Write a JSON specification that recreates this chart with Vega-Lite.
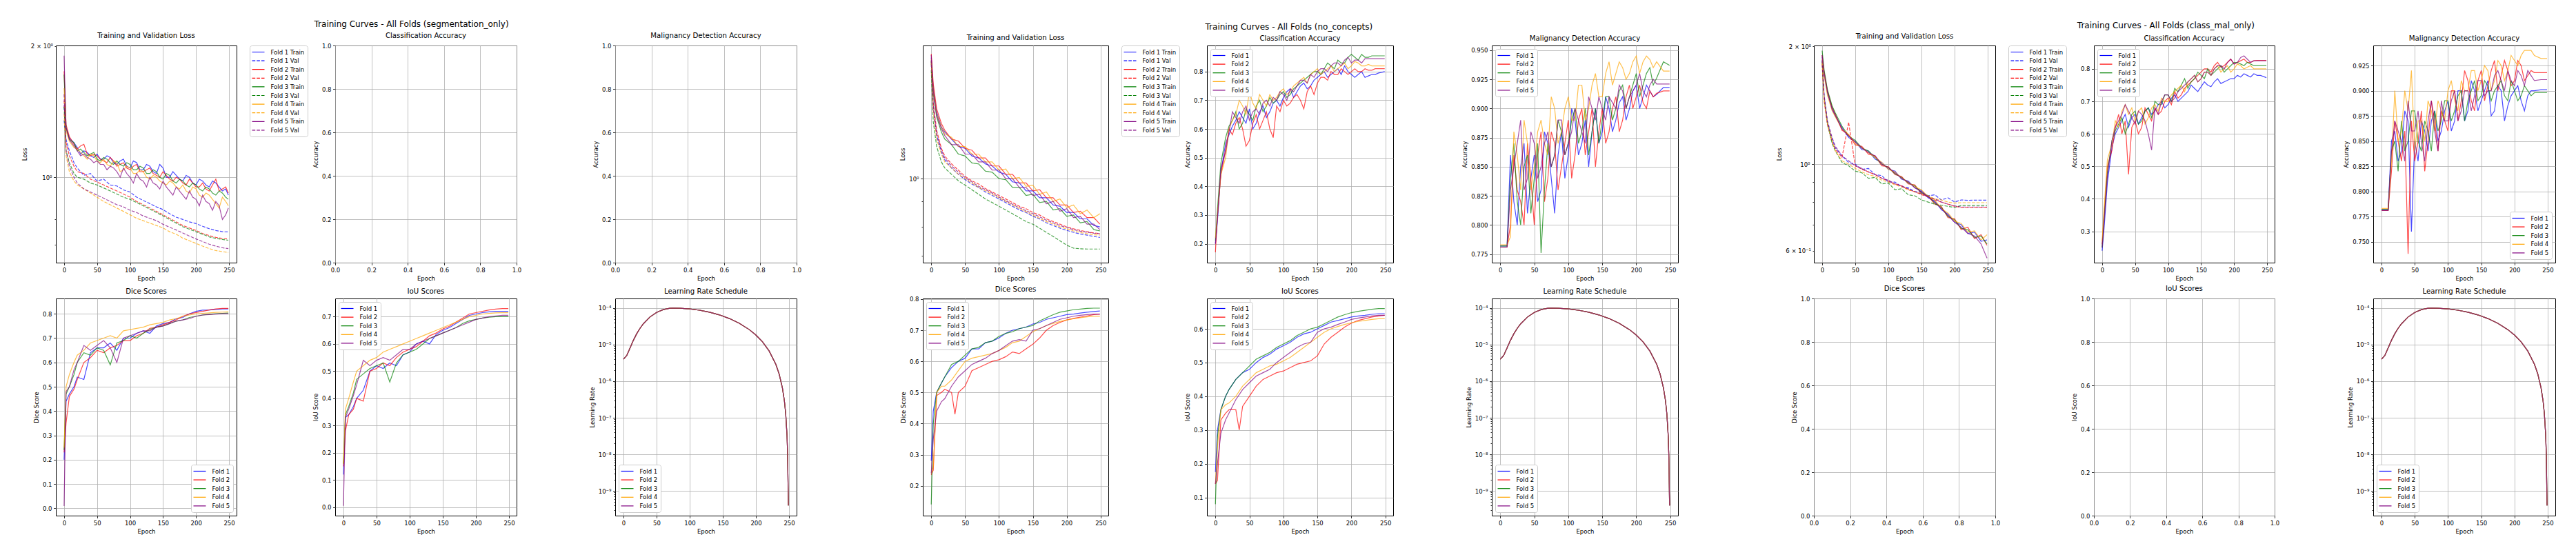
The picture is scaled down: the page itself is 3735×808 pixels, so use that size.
{
"$schema":"https://vega.github.io/schema/vega-lite/v6.json",
"background":"white",
"padding":{"left":30,"top":29,"right":5,"bottom":5},
"spacing":141,
"resolve":{"scale":{"color":"independent","strokeDash":"independent"},"legend":{"color":"independent","strokeDash":"independent"}},
"datasets":{
"lr":[
{"f":1,"e":0,"v":4e-6},{"f":1,"e":5,"v":5.05e-6},{"f":1,"e":10,"v":8.15e-6},{"f":1,"e":15,"v":1.317e-5},{"f":1,"e":20,"v":1.988e-5},{"f":1,"e":25,"v":2.8e-5},{"f":1,"e":30,"v":3.717e-5},{"f":1,"e":40,"v":5.702e-5},{"f":1,"e":50,"v":7.6e-5},{"f":1,"e":60,"v":9.083e-5},{"f":1,"e":70,"v":9.895e-5},{"f":1,"e":75,"v":1e-4},{"f":1,"e":85,"v":9.919e-5},{"f":1,"e":100,"v":9.499e-5},{"f":1,"e":115,"v":8.752e-5},{"f":1,"e":130,"v":7.728e-5},{"f":1,"e":145,"v":6.511e-5},{"f":1,"e":160,"v":5.18e-5},{"f":1,"e":175,"v":3.837e-5},{"f":1,"e":190,"v":2.58e-5},{"f":1,"e":200,"v":1.833e-5},{"f":1,"e":210,"v":1.19e-5},{"f":1,"e":220,"v":6.7e-6},{"f":1,"e":230,"v":2.925e-6},{"f":1,"e":235,"v":1.595e-6},{"f":1,"e":240,"v":6.6e-7},{"f":1,"e":243,"v":2.93e-7},{"f":1,"e":245,"v":1.3e-7},{"f":1,"e":247,"v":3.26e-8},{"f":1,"e":248,"v":8.5e-9},{"f":1,"e":249,"v":4e-10},
{"f":2,"e":0,"v":4e-6},{"f":2,"e":5,"v":5.05e-6},{"f":2,"e":10,"v":8.15e-6},{"f":2,"e":15,"v":1.317e-5},{"f":2,"e":20,"v":1.988e-5},{"f":2,"e":25,"v":2.8e-5},{"f":2,"e":30,"v":3.717e-5},{"f":2,"e":40,"v":5.702e-5},{"f":2,"e":50,"v":7.6e-5},{"f":2,"e":60,"v":9.083e-5},{"f":2,"e":70,"v":9.895e-5},{"f":2,"e":75,"v":1e-4},{"f":2,"e":85,"v":9.919e-5},{"f":2,"e":100,"v":9.499e-5},{"f":2,"e":115,"v":8.752e-5},{"f":2,"e":130,"v":7.728e-5},{"f":2,"e":145,"v":6.511e-5},{"f":2,"e":160,"v":5.18e-5},{"f":2,"e":175,"v":3.837e-5},{"f":2,"e":190,"v":2.58e-5},{"f":2,"e":200,"v":1.833e-5},{"f":2,"e":210,"v":1.19e-5},{"f":2,"e":220,"v":6.7e-6},{"f":2,"e":230,"v":2.925e-6},{"f":2,"e":235,"v":1.595e-6},{"f":2,"e":240,"v":6.6e-7},{"f":2,"e":243,"v":2.93e-7},{"f":2,"e":245,"v":1.3e-7},{"f":2,"e":247,"v":3.26e-8},{"f":2,"e":248,"v":8.5e-9},{"f":2,"e":249,"v":4e-10},
{"f":3,"e":0,"v":4e-6},{"f":3,"e":5,"v":5.05e-6},{"f":3,"e":10,"v":8.15e-6},{"f":3,"e":15,"v":1.317e-5},{"f":3,"e":20,"v":1.988e-5},{"f":3,"e":25,"v":2.8e-5},{"f":3,"e":30,"v":3.717e-5},{"f":3,"e":40,"v":5.702e-5},{"f":3,"e":50,"v":7.6e-5},{"f":3,"e":60,"v":9.083e-5},{"f":3,"e":70,"v":9.895e-5},{"f":3,"e":75,"v":1e-4},{"f":3,"e":85,"v":9.919e-5},{"f":3,"e":100,"v":9.499e-5},{"f":3,"e":115,"v":8.752e-5},{"f":3,"e":130,"v":7.728e-5},{"f":3,"e":145,"v":6.511e-5},{"f":3,"e":160,"v":5.18e-5},{"f":3,"e":175,"v":3.837e-5},{"f":3,"e":190,"v":2.58e-5},{"f":3,"e":200,"v":1.833e-5},{"f":3,"e":210,"v":1.19e-5},{"f":3,"e":220,"v":6.7e-6},{"f":3,"e":230,"v":2.925e-6},{"f":3,"e":235,"v":1.595e-6},{"f":3,"e":240,"v":6.6e-7},{"f":3,"e":243,"v":2.93e-7},{"f":3,"e":245,"v":1.3e-7},{"f":3,"e":247,"v":3.26e-8},{"f":3,"e":248,"v":8.5e-9},{"f":3,"e":249,"v":4e-10},
{"f":4,"e":0,"v":4e-6},{"f":4,"e":5,"v":5.05e-6},{"f":4,"e":10,"v":8.15e-6},{"f":4,"e":15,"v":1.317e-5},{"f":4,"e":20,"v":1.988e-5},{"f":4,"e":25,"v":2.8e-5},{"f":4,"e":30,"v":3.717e-5},{"f":4,"e":40,"v":5.702e-5},{"f":4,"e":50,"v":7.6e-5},{"f":4,"e":60,"v":9.083e-5},{"f":4,"e":70,"v":9.895e-5},{"f":4,"e":75,"v":1e-4},{"f":4,"e":85,"v":9.919e-5},{"f":4,"e":100,"v":9.499e-5},{"f":4,"e":115,"v":8.752e-5},{"f":4,"e":130,"v":7.728e-5},{"f":4,"e":145,"v":6.511e-5},{"f":4,"e":160,"v":5.18e-5},{"f":4,"e":175,"v":3.837e-5},{"f":4,"e":190,"v":2.58e-5},{"f":4,"e":200,"v":1.833e-5},{"f":4,"e":210,"v":1.19e-5},{"f":4,"e":220,"v":6.7e-6},{"f":4,"e":230,"v":2.925e-6},{"f":4,"e":235,"v":1.595e-6},{"f":4,"e":240,"v":6.6e-7},{"f":4,"e":243,"v":2.93e-7},{"f":4,"e":245,"v":1.3e-7},{"f":4,"e":247,"v":3.26e-8},{"f":4,"e":248,"v":8.5e-9},{"f":4,"e":249,"v":4e-10},
{"f":5,"e":0,"v":4e-6},{"f":5,"e":5,"v":5.05e-6},{"f":5,"e":10,"v":8.15e-6},{"f":5,"e":15,"v":1.317e-5},{"f":5,"e":20,"v":1.988e-5},{"f":5,"e":25,"v":2.8e-5},{"f":5,"e":30,"v":3.717e-5},{"f":5,"e":40,"v":5.702e-5},{"f":5,"e":50,"v":7.6e-5},{"f":5,"e":60,"v":9.083e-5},{"f":5,"e":70,"v":9.895e-5},{"f":5,"e":75,"v":1e-4},{"f":5,"e":85,"v":9.919e-5},{"f":5,"e":100,"v":9.499e-5},{"f":5,"e":115,"v":8.752e-5},{"f":5,"e":130,"v":7.728e-5},{"f":5,"e":145,"v":6.511e-5},{"f":5,"e":160,"v":5.18e-5},{"f":5,"e":175,"v":3.837e-5},{"f":5,"e":190,"v":2.58e-5},{"f":5,"e":200,"v":1.833e-5},{"f":5,"e":210,"v":1.19e-5},{"f":5,"e":220,"v":6.7e-6},{"f":5,"e":230,"v":2.925e-6},{"f":5,"e":235,"v":1.595e-6},{"f":5,"e":240,"v":6.6e-7},{"f":5,"e":243,"v":2.93e-7},{"f":5,"e":245,"v":1.3e-7},{"f":5,"e":247,"v":3.26e-8},{"f":5,"e":248,"v":8.5e-9},{"f":5,"e":249,"v":4e-10}
],
"l1":[
{"f":"1T","e":0,"v":1.46},{"f":"1T","e":3,"v":1.3},{"f":"1T","e":8,"v":1.23},{"f":"1T","e":15,"v":1.2},{"f":"1T","e":20,"v":1.17},{"f":"1T","e":30,"v":1.15},{"f":"1T","e":40,"v":1.12},{"f":"1T","e":50,"v":1.13},{"f":"1T","e":60,"v":1.1},{"f":"1T","e":70,"v":1.11},{"f":"1T","e":80,"v":1.07},{"f":"1T","e":90,"v":1.1},{"f":"1T","e":100,"v":1.05},{"f":"1T","e":110,"v":1.08},{"f":"1T","e":120,"v":1.04},{"f":"1T","e":130,"v":1.06},{"f":"1T","e":140,"v":1.02},{"f":"1T","e":150,"v":1.05},{"f":"1T","e":160,"v":1.0},{"f":"1T","e":170,"v":1.01},{"f":"1T","e":180,"v":0.98},{"f":"1T","e":190,"v":1.0},{"f":"1T","e":200,"v":0.96},{"f":"1T","e":210,"v":0.98},{"f":"1T","e":220,"v":0.95},{"f":"1T","e":230,"v":0.97},{"f":"1T","e":240,"v":0.93},{"f":"1T","e":249,"v":0.91},
{"f":"1V","e":0,"v":1.35},{"f":"1V","e":3,"v":1.22},{"f":"1V","e":8,"v":1.15},{"f":"1V","e":15,"v":1.08},{"f":"1V","e":20,"v":1.05},{"f":"1V","e":30,"v":1.01},{"f":"1V","e":40,"v":1.02},{"f":"1V","e":50,"v":0.98},{"f":"1V","e":60,"v":0.99},{"f":"1V","e":70,"v":0.96},{"f":"1V","e":80,"v":0.955},{"f":"1V","e":90,"v":0.935},{"f":"1V","e":100,"v":0.925},{"f":"1V","e":110,"v":0.9},{"f":"1V","e":120,"v":0.885},{"f":"1V","e":130,"v":0.87},{"f":"1V","e":140,"v":0.855},{"f":"1V","e":150,"v":0.843},{"f":"1V","e":160,"v":0.825},{"f":"1V","e":170,"v":0.81},{"f":"1V","e":180,"v":0.8},{"f":"1V","e":190,"v":0.79},{"f":"1V","e":200,"v":0.783},{"f":"1V","e":210,"v":0.772},{"f":"1V","e":220,"v":0.762},{"f":"1V","e":230,"v":0.755},{"f":"1V","e":240,"v":0.75},{"f":"1V","e":249,"v":0.749},
{"f":"2T","e":0,"v":1.75},{"f":"2T","e":3,"v":1.32},{"f":"2T","e":8,"v":1.24},{"f":"2T","e":15,"v":1.19},{"f":"2T","e":20,"v":1.16},{"f":"2T","e":30,"v":1.19},{"f":"2T","e":40,"v":1.12},{"f":"2T","e":50,"v":1.12},{"f":"2T","e":60,"v":1.09},{"f":"2T","e":70,"v":1.11},{"f":"2T","e":80,"v":1.06},{"f":"2T","e":90,"v":1.08},{"f":"2T","e":100,"v":1.04},{"f":"2T","e":110,"v":1.07},{"f":"2T","e":120,"v":1.03},{"f":"2T","e":130,"v":1.05},{"f":"2T","e":140,"v":1.01},{"f":"2T","e":150,"v":1.03},{"f":"2T","e":160,"v":0.99},{"f":"2T","e":170,"v":1.0},{"f":"2T","e":180,"v":0.97},{"f":"2T","e":190,"v":0.99},{"f":"2T","e":200,"v":0.95},{"f":"2T","e":210,"v":0.97},{"f":"2T","e":220,"v":0.93},{"f":"2T","e":230,"v":0.99},{"f":"2T","e":240,"v":0.94},{"f":"2T","e":249,"v":0.92},
{"f":"2V","e":0,"v":1.5},{"f":"2V","e":3,"v":1.2},{"f":"2V","e":8,"v":1.12},{"f":"2V","e":15,"v":1.06},{"f":"2V","e":20,"v":1.03},{"f":"2V","e":30,"v":1.02},{"f":"2V","e":40,"v":0.99},{"f":"2V","e":50,"v":0.975},{"f":"2V","e":60,"v":0.96},{"f":"2V","e":70,"v":0.945},{"f":"2V","e":80,"v":0.93},{"f":"2V","e":90,"v":0.915},{"f":"2V","e":100,"v":0.9},{"f":"2V","e":110,"v":0.88},{"f":"2V","e":120,"v":0.865},{"f":"2V","e":130,"v":0.85},{"f":"2V","e":140,"v":0.835},{"f":"2V","e":150,"v":0.82},{"f":"2V","e":160,"v":0.805},{"f":"2V","e":170,"v":0.79},{"f":"2V","e":180,"v":0.775},{"f":"2V","e":190,"v":0.765},{"f":"2V","e":200,"v":0.755},{"f":"2V","e":210,"v":0.743},{"f":"2V","e":220,"v":0.735},{"f":"2V","e":230,"v":0.728},{"f":"2V","e":240,"v":0.724},{"f":"2V","e":249,"v":0.722},
{"f":"3T","e":0,"v":1.72},{"f":"3T","e":3,"v":1.3},{"f":"3T","e":8,"v":1.22},{"f":"3T","e":15,"v":1.2},{"f":"3T","e":20,"v":1.15},{"f":"3T","e":30,"v":1.14},{"f":"3T","e":40,"v":1.13},{"f":"3T","e":50,"v":1.1},{"f":"3T","e":60,"v":1.11},{"f":"3T","e":70,"v":1.08},{"f":"3T","e":80,"v":1.09},{"f":"3T","e":90,"v":1.06},{"f":"3T","e":100,"v":1.07},{"f":"3T","e":110,"v":1.04},{"f":"3T","e":120,"v":1.05},{"f":"3T","e":130,"v":1.02},{"f":"3T","e":140,"v":1.03},{"f":"3T","e":150,"v":0.99},{"f":"3T","e":160,"v":1.01},{"f":"3T","e":170,"v":0.97},{"f":"3T","e":180,"v":0.98},{"f":"3T","e":190,"v":0.95},{"f":"3T","e":200,"v":0.96},{"f":"3T","e":210,"v":0.93},{"f":"3T","e":220,"v":0.94},{"f":"3T","e":230,"v":0.91},{"f":"3T","e":240,"v":0.92},{"f":"3T","e":249,"v":0.89},
{"f":"3V","e":0,"v":1.45},{"f":"3V","e":3,"v":1.15},{"f":"3V","e":8,"v":1.08},{"f":"3V","e":15,"v":1.02},{"f":"3V","e":20,"v":1.0},{"f":"3V","e":30,"v":0.99},{"f":"3V","e":40,"v":0.97},{"f":"3V","e":50,"v":0.96},{"f":"3V","e":60,"v":0.945},{"f":"3V","e":70,"v":0.93},{"f":"3V","e":80,"v":0.915},{"f":"3V","e":90,"v":0.9},{"f":"3V","e":100,"v":0.89},{"f":"3V","e":110,"v":0.875},{"f":"3V","e":120,"v":0.86},{"f":"3V","e":130,"v":0.845},{"f":"3V","e":140,"v":0.83},{"f":"3V","e":150,"v":0.815},{"f":"3V","e":160,"v":0.8},{"f":"3V","e":170,"v":0.785},{"f":"3V","e":180,"v":0.77},{"f":"3V","e":190,"v":0.76},{"f":"3V","e":200,"v":0.75},{"f":"3V","e":210,"v":0.74},{"f":"3V","e":220,"v":0.73},{"f":"3V","e":230,"v":0.724},{"f":"3V","e":240,"v":0.72},{"f":"3V","e":249,"v":0.717},
{"f":"4T","e":0,"v":1.6},{"f":"4T","e":3,"v":1.28},{"f":"4T","e":8,"v":1.21},{"f":"4T","e":15,"v":1.17},{"f":"4T","e":20,"v":1.16},{"f":"4T","e":30,"v":1.12},{"f":"4T","e":40,"v":1.13},{"f":"4T","e":50,"v":1.09},{"f":"4T","e":60,"v":1.1},{"f":"4T","e":70,"v":1.06},{"f":"4T","e":80,"v":1.08},{"f":"4T","e":90,"v":1.04},{"f":"4T","e":100,"v":1.05},{"f":"4T","e":110,"v":1.02},{"f":"4T","e":120,"v":1.03},{"f":"4T","e":130,"v":0.99},{"f":"4T","e":140,"v":1.0},{"f":"4T","e":150,"v":0.97},{"f":"4T","e":160,"v":0.98},{"f":"4T","e":170,"v":0.95},{"f":"4T","e":180,"v":0.96},{"f":"4T","e":190,"v":0.92},{"f":"4T","e":200,"v":0.94},{"f":"4T","e":210,"v":0.9},{"f":"4T","e":220,"v":0.91},{"f":"4T","e":230,"v":0.87},{"f":"4T","e":240,"v":0.9},{"f":"4T","e":249,"v":0.86},
{"f":"4V","e":0,"v":1.4},{"f":"4V","e":3,"v":1.12},{"f":"4V","e":8,"v":1.03},{"f":"4V","e":15,"v":0.98},{"f":"4V","e":20,"v":0.96},{"f":"4V","e":30,"v":0.94},{"f":"4V","e":40,"v":0.92},{"f":"4V","e":50,"v":0.9},{"f":"4V","e":60,"v":0.88},{"f":"4V","e":70,"v":0.865},{"f":"4V","e":80,"v":0.85},{"f":"4V","e":90,"v":0.835},{"f":"4V","e":100,"v":0.82},{"f":"4V","e":110,"v":0.805},{"f":"4V","e":120,"v":0.795},{"f":"4V","e":130,"v":0.785},{"f":"4V","e":140,"v":0.775},{"f":"4V","e":150,"v":0.765},{"f":"4V","e":160,"v":0.75},{"f":"4V","e":170,"v":0.74},{"f":"4V","e":180,"v":0.725},{"f":"4V","e":190,"v":0.715},{"f":"4V","e":200,"v":0.705},{"f":"4V","e":210,"v":0.695},{"f":"4V","e":220,"v":0.686},{"f":"4V","e":230,"v":0.679},{"f":"4V","e":240,"v":0.675},{"f":"4V","e":249,"v":0.672},
{"f":"5T","e":0,"v":1.9},{"f":"5T","e":3,"v":1.3},{"f":"5T","e":8,"v":1.22},{"f":"5T","e":15,"v":1.18},{"f":"5T","e":20,"v":1.15},{"f":"5T","e":30,"v":1.13},{"f":"5T","e":40,"v":1.1},{"f":"5T","e":50,"v":1.09},{"f":"5T","e":60,"v":1.07},{"f":"5T","e":70,"v":1.06},{"f":"5T","e":80,"v":1.03},{"f":"5T","e":90,"v":1.05},{"f":"5T","e":100,"v":1.0},{"f":"5T","e":110,"v":1.02},{"f":"5T","e":120,"v":0.98},{"f":"5T","e":130,"v":1.0},{"f":"5T","e":140,"v":0.96},{"f":"5T","e":150,"v":0.98},{"f":"5T","e":160,"v":0.93},{"f":"5T","e":170,"v":0.95},{"f":"5T","e":180,"v":0.91},{"f":"5T","e":190,"v":0.93},{"f":"5T","e":200,"v":0.89},{"f":"5T","e":210,"v":0.91},{"f":"5T","e":220,"v":0.87},{"f":"5T","e":230,"v":0.88},{"f":"5T","e":240,"v":0.8},{"f":"5T","e":249,"v":0.85},
{"f":"5V","e":0,"v":1.55},{"f":"5V","e":3,"v":1.15},{"f":"5V","e":8,"v":1.06},{"f":"5V","e":15,"v":1.0},{"f":"5V","e":20,"v":0.97},{"f":"5V","e":30,"v":0.94},{"f":"5V","e":40,"v":0.925},{"f":"5V","e":50,"v":0.91},{"f":"5V","e":60,"v":0.895},{"f":"5V","e":70,"v":0.88},{"f":"5V","e":80,"v":0.865},{"f":"5V","e":90,"v":0.855},{"f":"5V","e":100,"v":0.84},{"f":"5V","e":110,"v":0.83},{"f":"5V","e":120,"v":0.815},{"f":"5V","e":130,"v":0.805},{"f":"5V","e":140,"v":0.795},{"f":"5V","e":150,"v":0.78},{"f":"5V","e":160,"v":0.768},{"f":"5V","e":170,"v":0.757},{"f":"5V","e":180,"v":0.745},{"f":"5V","e":190,"v":0.733},{"f":"5V","e":200,"v":0.722},{"f":"5V","e":210,"v":0.712},{"f":"5V","e":220,"v":0.702},{"f":"5V","e":230,"v":0.695},{"f":"5V","e":240,"v":0.689},{"f":"5V","e":249,"v":0.686},
{"f":"1T","e":25,"v":1.13},{"f":"1T","e":35,"v":1.14},{"f":"1T","e":45,"v":1.11},{"f":"1T","e":55,"v":1.1},{"f":"1T","e":65,"v":1.12},{"f":"1T","e":75,"v":1.08},{"f":"1T","e":85,"v":1.09},{"f":"1T","e":95,"v":1.06},{"f":"1T","e":105,"v":1.09},{"f":"1T","e":115,"v":1.04},{"f":"1T","e":125,"v":1.07},{"f":"1T","e":135,"v":1.03},{"f":"1T","e":145,"v":1.07},{"f":"1T","e":155,"v":1.0},{"f":"1T","e":165,"v":1.03},{"f":"1T","e":175,"v":0.99},{"f":"1T","e":185,"v":1.01},{"f":"1T","e":195,"v":0.97},{"f":"1T","e":205,"v":0.99},{"f":"1T","e":215,"v":0.96},{"f":"1T","e":225,"v":0.98},{"f":"1T","e":235,"v":0.95},{"f":"1T","e":245,"v":0.94},
{"f":"2T","e":25,"v":1.18},{"f":"2T","e":35,"v":1.13},{"f":"2T","e":45,"v":1.13},{"f":"2T","e":55,"v":1.1},{"f":"2T","e":65,"v":1.08},{"f":"2T","e":75,"v":1.09},{"f":"2T","e":85,"v":1.07},{"f":"2T","e":95,"v":1.05},{"f":"2T","e":105,"v":1.06},{"f":"2T","e":115,"v":1.03},{"f":"2T","e":125,"v":1.04},{"f":"2T","e":135,"v":1.02},{"f":"2T","e":145,"v":1.0},{"f":"2T","e":155,"v":1.01},{"f":"2T","e":165,"v":0.98},{"f":"2T","e":175,"v":0.99},{"f":"2T","e":185,"v":0.96},{"f":"2T","e":195,"v":0.97},{"f":"2T","e":205,"v":0.95},{"f":"2T","e":215,"v":0.94},{"f":"2T","e":225,"v":0.96},{"f":"2T","e":235,"v":0.93},{"f":"2T","e":245,"v":0.95},
{"f":"3T","e":25,"v":1.16},{"f":"3T","e":35,"v":1.12},{"f":"3T","e":45,"v":1.14},{"f":"3T","e":55,"v":1.09},{"f":"3T","e":65,"v":1.1},{"f":"3T","e":75,"v":1.07},{"f":"3T","e":85,"v":1.07},{"f":"3T","e":95,"v":1.08},{"f":"3T","e":105,"v":1.04},{"f":"3T","e":115,"v":1.06},{"f":"3T","e":125,"v":1.02},{"f":"3T","e":135,"v":1.04},{"f":"3T","e":145,"v":1.0},{"f":"3T","e":155,"v":1.02},{"f":"3T","e":165,"v":0.98},{"f":"3T","e":175,"v":0.99},{"f":"3T","e":185,"v":0.96},{"f":"3T","e":195,"v":0.97},{"f":"3T","e":205,"v":0.94},{"f":"3T","e":215,"v":0.95},{"f":"3T","e":225,"v":0.92},{"f":"3T","e":235,"v":0.93},{"f":"3T","e":245,"v":0.9},
{"f":"4T","e":25,"v":1.14},{"f":"4T","e":35,"v":1.1},{"f":"4T","e":45,"v":1.12},{"f":"4T","e":55,"v":1.08},{"f":"4T","e":65,"v":1.07},{"f":"4T","e":75,"v":1.09},{"f":"4T","e":85,"v":1.03},{"f":"4T","e":95,"v":1.06},{"f":"4T","e":105,"v":1.02},{"f":"4T","e":115,"v":1.04},{"f":"4T","e":125,"v":1.0},{"f":"4T","e":135,"v":1.01},{"f":"4T","e":145,"v":0.98},{"f":"4T","e":155,"v":0.96},{"f":"4T","e":165,"v":0.97},{"f":"4T","e":175,"v":0.94},{"f":"4T","e":185,"v":0.93},{"f":"4T","e":195,"v":0.95},{"f":"4T","e":205,"v":0.91},{"f":"4T","e":215,"v":0.92},{"f":"4T","e":225,"v":0.89},{"f":"4T","e":235,"v":0.85},{"f":"4T","e":245,"v":0.88},
{"f":"5T","e":25,"v":1.12},{"f":"5T","e":35,"v":1.11},{"f":"5T","e":45,"v":1.08},{"f":"5T","e":55,"v":1.07},{"f":"5T","e":65,"v":1.04},{"f":"5T","e":75,"v":1.05},{"f":"5T","e":85,"v":1.0},{"f":"5T","e":95,"v":1.02},{"f":"5T","e":105,"v":0.97},{"f":"5T","e":115,"v":0.99},{"f":"5T","e":125,"v":0.95},{"f":"5T","e":135,"v":0.97},{"f":"5T","e":145,"v":0.94},{"f":"5T","e":155,"v":0.95},{"f":"5T","e":165,"v":0.91},{"f":"5T","e":175,"v":0.93},{"f":"5T","e":185,"v":0.89},{"f":"5T","e":195,"v":0.9},{"f":"5T","e":205,"v":0.86},{"f":"5T","e":215,"v":0.88},{"f":"5T","e":225,"v":0.84},{"f":"5T","e":235,"v":0.86},{"f":"5T","e":245,"v":0.82}
],
"d1":[
{"f":1,"e":0,"v":0.2},{"f":1,"e":3,"v":0.44},{"f":1,"e":8,"v":0.47},{"f":1,"e":15,"v":0.5},{"f":1,"e":20,"v":0.54},{"f":1,"e":30,"v":0.53},{"f":1,"e":40,"v":0.64},{"f":1,"e":50,"v":0.66},{"f":1,"e":60,"v":0.66},{"f":1,"e":70,"v":0.68},{"f":1,"e":80,"v":0.65},{"f":1,"e":90,"v":0.7},{"f":1,"e":100,"v":0.7},{"f":1,"e":110,"v":0.72},{"f":1,"e":120,"v":0.73},{"f":1,"e":130,"v":0.72},{"f":1,"e":140,"v":0.75},{"f":1,"e":150,"v":0.76},{"f":1,"e":160,"v":0.765},{"f":1,"e":170,"v":0.78},{"f":1,"e":180,"v":0.785},{"f":1,"e":190,"v":0.8},{"f":1,"e":200,"v":0.81},{"f":1,"e":210,"v":0.815},{"f":1,"e":220,"v":0.816},{"f":1,"e":230,"v":0.818},{"f":1,"e":240,"v":0.82},{"f":1,"e":249,"v":0.82},
{"f":2,"e":0,"v":0.23},{"f":2,"e":3,"v":0.35},{"f":2,"e":8,"v":0.46},{"f":2,"e":15,"v":0.49},{"f":2,"e":20,"v":0.53},{"f":2,"e":30,"v":0.6},{"f":2,"e":40,"v":0.62},{"f":2,"e":50,"v":0.65},{"f":2,"e":60,"v":0.64},{"f":2,"e":70,"v":0.66},{"f":2,"e":80,"v":0.67},{"f":2,"e":90,"v":0.69},{"f":2,"e":100,"v":0.69},{"f":2,"e":110,"v":0.71},{"f":2,"e":120,"v":0.72},{"f":2,"e":130,"v":0.74},{"f":2,"e":140,"v":0.745},{"f":2,"e":150,"v":0.755},{"f":2,"e":160,"v":0.765},{"f":2,"e":170,"v":0.775},{"f":2,"e":180,"v":0.79},{"f":2,"e":190,"v":0.8},{"f":2,"e":200,"v":0.805},{"f":2,"e":210,"v":0.81},{"f":2,"e":220,"v":0.816},{"f":2,"e":230,"v":0.82},{"f":2,"e":240,"v":0.822},{"f":2,"e":249,"v":0.822},
{"f":3,"e":0,"v":0.24},{"f":3,"e":3,"v":0.47},{"f":3,"e":8,"v":0.5},{"f":3,"e":15,"v":0.55},{"f":3,"e":20,"v":0.6},{"f":3,"e":30,"v":0.64},{"f":3,"e":40,"v":0.63},{"f":3,"e":50,"v":0.66},{"f":3,"e":60,"v":0.65},{"f":3,"e":70,"v":0.59},{"f":3,"e":80,"v":0.68},{"f":3,"e":90,"v":0.69},{"f":3,"e":100,"v":0.71},{"f":3,"e":110,"v":0.7},{"f":3,"e":120,"v":0.72},{"f":3,"e":130,"v":0.735},{"f":3,"e":140,"v":0.745},{"f":3,"e":150,"v":0.75},{"f":3,"e":160,"v":0.76},{"f":3,"e":170,"v":0.77},{"f":3,"e":180,"v":0.775},{"f":3,"e":190,"v":0.785},{"f":3,"e":200,"v":0.79},{"f":3,"e":210,"v":0.795},{"f":3,"e":220,"v":0.798},{"f":3,"e":230,"v":0.8},{"f":3,"e":240,"v":0.802},{"f":3,"e":249,"v":0.803},
{"f":4,"e":0,"v":0.25},{"f":4,"e":3,"v":0.5},{"f":4,"e":8,"v":0.55},{"f":4,"e":15,"v":0.6},{"f":4,"e":20,"v":0.63},{"f":4,"e":30,"v":0.65},{"f":4,"e":40,"v":0.68},{"f":4,"e":50,"v":0.69},{"f":4,"e":60,"v":0.7},{"f":4,"e":70,"v":0.71},{"f":4,"e":80,"v":0.7},{"f":4,"e":90,"v":0.73},{"f":4,"e":100,"v":0.735},{"f":4,"e":110,"v":0.74},{"f":4,"e":120,"v":0.745},{"f":4,"e":130,"v":0.755},{"f":4,"e":140,"v":0.76},{"f":4,"e":150,"v":0.765},{"f":4,"e":160,"v":0.775},{"f":4,"e":170,"v":0.78},{"f":4,"e":180,"v":0.79},{"f":4,"e":190,"v":0.795},{"f":4,"e":200,"v":0.8},{"f":4,"e":210,"v":0.802},{"f":4,"e":220,"v":0.804},{"f":4,"e":230,"v":0.806},{"f":4,"e":240,"v":0.807},{"f":4,"e":249,"v":0.808},
{"f":5,"e":0,"v":0.01},{"f":5,"e":3,"v":0.48},{"f":5,"e":8,"v":0.5},{"f":5,"e":15,"v":0.57},{"f":5,"e":20,"v":0.6},{"f":5,"e":30,"v":0.67},{"f":5,"e":40,"v":0.65},{"f":5,"e":50,"v":0.67},{"f":5,"e":60,"v":0.69},{"f":5,"e":70,"v":0.66},{"f":5,"e":80,"v":0.6},{"f":5,"e":90,"v":0.7},{"f":5,"e":100,"v":0.71},{"f":5,"e":110,"v":0.72},{"f":5,"e":120,"v":0.73},{"f":5,"e":130,"v":0.73},{"f":5,"e":140,"v":0.745},{"f":5,"e":150,"v":0.75},{"f":5,"e":160,"v":0.76},{"f":5,"e":170,"v":0.77},{"f":5,"e":180,"v":0.775},{"f":5,"e":190,"v":0.78},{"f":5,"e":200,"v":0.79},{"f":5,"e":210,"v":0.795},{"f":5,"e":220,"v":0.797},{"f":5,"e":230,"v":0.799},{"f":5,"e":240,"v":0.8},{"f":5,"e":249,"v":0.8}
],
"i1":[
{"f":1,"e":0,"v":0.12},{"f":1,"e":3,"v":0.33},{"f":1,"e":8,"v":0.34},{"f":1,"e":15,"v":0.37},{"f":1,"e":20,"v":0.4},{"f":1,"e":30,"v":0.43},{"f":1,"e":40,"v":0.5},{"f":1,"e":50,"v":0.52},{"f":1,"e":60,"v":0.51},{"f":1,"e":70,"v":0.53},{"f":1,"e":80,"v":0.52},{"f":1,"e":90,"v":0.56},{"f":1,"e":100,"v":0.57},{"f":1,"e":110,"v":0.6},{"f":1,"e":120,"v":0.61},{"f":1,"e":130,"v":0.6},{"f":1,"e":140,"v":0.635},{"f":1,"e":150,"v":0.65},{"f":1,"e":160,"v":0.66},{"f":1,"e":170,"v":0.675},{"f":1,"e":180,"v":0.69},{"f":1,"e":190,"v":0.705},{"f":1,"e":200,"v":0.71},{"f":1,"e":210,"v":0.715},{"f":1,"e":220,"v":0.718},{"f":1,"e":230,"v":0.72},{"f":1,"e":240,"v":0.72},{"f":1,"e":249,"v":0.72},
{"f":2,"e":0,"v":0.15},{"f":2,"e":3,"v":0.28},{"f":2,"e":8,"v":0.34},{"f":2,"e":15,"v":0.36},{"f":2,"e":20,"v":0.4},{"f":2,"e":30,"v":0.39},{"f":2,"e":40,"v":0.5},{"f":2,"e":50,"v":0.51},{"f":2,"e":60,"v":0.53},{"f":2,"e":70,"v":0.52},{"f":2,"e":80,"v":0.55},{"f":2,"e":90,"v":0.57},{"f":2,"e":100,"v":0.58},{"f":2,"e":110,"v":0.59},{"f":2,"e":120,"v":0.61},{"f":2,"e":130,"v":0.63},{"f":2,"e":140,"v":0.64},{"f":2,"e":150,"v":0.655},{"f":2,"e":160,"v":0.665},{"f":2,"e":170,"v":0.68},{"f":2,"e":180,"v":0.695},{"f":2,"e":190,"v":0.71},{"f":2,"e":200,"v":0.715},{"f":2,"e":210,"v":0.72},{"f":2,"e":220,"v":0.725},{"f":2,"e":230,"v":0.728},{"f":2,"e":240,"v":0.73},{"f":2,"e":249,"v":0.73},
{"f":3,"e":0,"v":0.16},{"f":3,"e":3,"v":0.34},{"f":3,"e":8,"v":0.37},{"f":3,"e":15,"v":0.42},{"f":3,"e":20,"v":0.47},{"f":3,"e":30,"v":0.49},{"f":3,"e":40,"v":0.51},{"f":3,"e":50,"v":0.52},{"f":3,"e":60,"v":0.53},{"f":3,"e":70,"v":0.46},{"f":3,"e":80,"v":0.53},{"f":3,"e":90,"v":0.56},{"f":3,"e":100,"v":0.57},{"f":3,"e":110,"v":0.58},{"f":3,"e":120,"v":0.6},{"f":3,"e":130,"v":0.62},{"f":3,"e":140,"v":0.63},{"f":3,"e":150,"v":0.64},{"f":3,"e":160,"v":0.65},{"f":3,"e":170,"v":0.66},{"f":3,"e":180,"v":0.675},{"f":3,"e":190,"v":0.685},{"f":3,"e":200,"v":0.69},{"f":3,"e":210,"v":0.695},{"f":3,"e":220,"v":0.698},{"f":3,"e":230,"v":0.7},{"f":3,"e":240,"v":0.7},{"f":3,"e":249,"v":0.7},
{"f":4,"e":0,"v":0.16},{"f":4,"e":3,"v":0.36},{"f":4,"e":8,"v":0.4},{"f":4,"e":15,"v":0.46},{"f":4,"e":20,"v":0.5},{"f":4,"e":30,"v":0.52},{"f":4,"e":40,"v":0.54},{"f":4,"e":50,"v":0.55},{"f":4,"e":60,"v":0.57},{"f":4,"e":70,"v":0.58},{"f":4,"e":80,"v":0.59},{"f":4,"e":90,"v":0.6},{"f":4,"e":100,"v":0.61},{"f":4,"e":110,"v":0.62},{"f":4,"e":120,"v":0.63},{"f":4,"e":130,"v":0.64},{"f":4,"e":140,"v":0.65},{"f":4,"e":150,"v":0.66},{"f":4,"e":160,"v":0.67},{"f":4,"e":170,"v":0.68},{"f":4,"e":180,"v":0.69},{"f":4,"e":190,"v":0.7},{"f":4,"e":200,"v":0.705},{"f":4,"e":210,"v":0.71},{"f":4,"e":220,"v":0.712},{"f":4,"e":230,"v":0.714},{"f":4,"e":240,"v":0.715},{"f":4,"e":249,"v":0.715},
{"f":5,"e":0,"v":0.005},{"f":5,"e":3,"v":0.33},{"f":5,"e":8,"v":0.36},{"f":5,"e":15,"v":0.41},{"f":5,"e":20,"v":0.45},{"f":5,"e":30,"v":0.54},{"f":5,"e":40,"v":0.52},{"f":5,"e":50,"v":0.54},{"f":5,"e":60,"v":0.55},{"f":5,"e":70,"v":0.54},{"f":5,"e":80,"v":0.56},{"f":5,"e":90,"v":0.58},{"f":5,"e":100,"v":0.58},{"f":5,"e":110,"v":0.6},{"f":5,"e":120,"v":0.61},{"f":5,"e":130,"v":0.62},{"f":5,"e":140,"v":0.63},{"f":5,"e":150,"v":0.64},{"f":5,"e":160,"v":0.65},{"f":5,"e":170,"v":0.66},{"f":5,"e":180,"v":0.67},{"f":5,"e":190,"v":0.68},{"f":5,"e":200,"v":0.69},{"f":5,"e":210,"v":0.695},{"f":5,"e":220,"v":0.7},{"f":5,"e":230,"v":0.703},{"f":5,"e":240,"v":0.705},{"f":5,"e":249,"v":0.705}
],
"l2":[
{"f":"1T","e":0,"v":1.75},{"f":"1T","e":3,"v":1.52},{"f":"1T","e":8,"v":1.36},{"f":"1T","e":15,"v":1.27},{"f":"1T","e":20,"v":1.24},{"f":"1T","e":30,"v":1.2},{"f":"1T","e":40,"v":1.16},{"f":"1T","e":50,"v":1.15},{"f":"1T","e":60,"v":1.11},{"f":"1T","e":70,"v":1.1},{"f":"1T","e":80,"v":1.07},{"f":"1T","e":90,"v":1.06},{"f":"1T","e":100,"v":1.03},{"f":"1T","e":110,"v":1.02},{"f":"1T","e":120,"v":0.985},{"f":"1T","e":130,"v":0.98},{"f":"1T","e":140,"v":0.945},{"f":"1T","e":150,"v":0.945},{"f":"1T","e":160,"v":0.915},{"f":"1T","e":170,"v":0.915},{"f":"1T","e":180,"v":0.885},{"f":"1T","e":190,"v":0.88},{"f":"1T","e":200,"v":0.855},{"f":"1T","e":210,"v":0.855},{"f":"1T","e":220,"v":0.83},{"f":"1T","e":230,"v":0.83},{"f":"1T","e":240,"v":0.805},{"f":"1T","e":249,"v":0.8},
{"f":"1V","e":0,"v":1.7},{"f":"1V","e":3,"v":1.38},{"f":"1V","e":8,"v":1.22},{"f":"1V","e":15,"v":1.13},{"f":"1V","e":20,"v":1.09},{"f":"1V","e":30,"v":1.05},{"f":"1V","e":40,"v":1.02},{"f":"1V","e":50,"v":0.995},{"f":"1V","e":60,"v":0.975},{"f":"1V","e":70,"v":0.96},{"f":"1V","e":80,"v":0.94},{"f":"1V","e":90,"v":0.925},{"f":"1V","e":100,"v":0.91},{"f":"1V","e":110,"v":0.895},{"f":"1V","e":120,"v":0.88},{"f":"1V","e":130,"v":0.865},{"f":"1V","e":140,"v":0.855},{"f":"1V","e":150,"v":0.84},{"f":"1V","e":160,"v":0.83},{"f":"1V","e":170,"v":0.815},{"f":"1V","e":180,"v":0.805},{"f":"1V","e":190,"v":0.795},{"f":"1V","e":200,"v":0.787},{"f":"1V","e":210,"v":0.78},{"f":"1V","e":220,"v":0.774},{"f":"1V","e":230,"v":0.77},{"f":"1V","e":240,"v":0.765},{"f":"1V","e":249,"v":0.762},
{"f":"2T","e":0,"v":1.78},{"f":"2T","e":3,"v":1.55},{"f":"2T","e":8,"v":1.38},{"f":"2T","e":15,"v":1.29},{"f":"2T","e":20,"v":1.25},{"f":"2T","e":30,"v":1.2},{"f":"2T","e":40,"v":1.19},{"f":"2T","e":50,"v":1.15},{"f":"2T","e":60,"v":1.14},{"f":"2T","e":70,"v":1.1},{"f":"2T","e":80,"v":1.1},{"f":"2T","e":90,"v":1.06},{"f":"2T","e":100,"v":1.06},{"f":"2T","e":110,"v":1.02},{"f":"2T","e":120,"v":1.02},{"f":"2T","e":130,"v":0.98},{"f":"2T","e":140,"v":0.98},{"f":"2T","e":150,"v":0.945},{"f":"2T","e":160,"v":0.95},{"f":"2T","e":170,"v":0.915},{"f":"2T","e":180,"v":0.915},{"f":"2T","e":190,"v":0.885},{"f":"2T","e":200,"v":0.885},{"f":"2T","e":210,"v":0.855},{"f":"2T","e":220,"v":0.86},{"f":"2T","e":230,"v":0.835},{"f":"2T","e":240,"v":0.835},{"f":"2T","e":249,"v":0.81},
{"f":"2V","e":0,"v":1.72},{"f":"2V","e":3,"v":1.42},{"f":"2V","e":8,"v":1.25},{"f":"2V","e":15,"v":1.15},{"f":"2V","e":20,"v":1.11},{"f":"2V","e":30,"v":1.07},{"f":"2V","e":40,"v":1.04},{"f":"2V","e":50,"v":1.01},{"f":"2V","e":60,"v":0.99},{"f":"2V","e":70,"v":0.975},{"f":"2V","e":80,"v":0.955},{"f":"2V","e":90,"v":0.94},{"f":"2V","e":100,"v":0.925},{"f":"2V","e":110,"v":0.91},{"f":"2V","e":120,"v":0.895},{"f":"2V","e":130,"v":0.88},{"f":"2V","e":140,"v":0.87},{"f":"2V","e":150,"v":0.855},{"f":"2V","e":160,"v":0.845},{"f":"2V","e":170,"v":0.83},{"f":"2V","e":180,"v":0.82},{"f":"2V","e":190,"v":0.81},{"f":"2V","e":200,"v":0.8},{"f":"2V","e":210,"v":0.793},{"f":"2V","e":220,"v":0.787},{"f":"2V","e":230,"v":0.782},{"f":"2V","e":240,"v":0.778},{"f":"2V","e":249,"v":0.775},
{"f":"3T","e":0,"v":1.72},{"f":"3T","e":3,"v":1.48},{"f":"3T","e":8,"v":1.33},{"f":"3T","e":15,"v":1.24},{"f":"3T","e":20,"v":1.2},{"f":"3T","e":30,"v":1.17},{"f":"3T","e":40,"v":1.12},{"f":"3T","e":50,"v":1.11},{"f":"3T","e":60,"v":1.075},{"f":"3T","e":70,"v":1.07},{"f":"3T","e":80,"v":1.035},{"f":"3T","e":90,"v":1.03},{"f":"3T","e":100,"v":1.0},{"f":"3T","e":110,"v":0.995},{"f":"3T","e":120,"v":0.96},{"f":"3T","e":130,"v":0.96},{"f":"3T","e":140,"v":0.925},{"f":"3T","e":150,"v":0.93},{"f":"3T","e":160,"v":0.895},{"f":"3T","e":170,"v":0.9},{"f":"3T","e":180,"v":0.865},{"f":"3T","e":190,"v":0.87},{"f":"3T","e":200,"v":0.84},{"f":"3T","e":210,"v":0.845},{"f":"3T","e":220,"v":0.815},{"f":"3T","e":230,"v":0.82},{"f":"3T","e":240,"v":0.79},{"f":"3T","e":249,"v":0.785},
{"f":"3V","e":0,"v":1.65},{"f":"3V","e":3,"v":1.3},{"f":"3V","e":8,"v":1.16},{"f":"3V","e":15,"v":1.08},{"f":"3V","e":20,"v":1.05},{"f":"3V","e":30,"v":1.02},{"f":"3V","e":40,"v":0.99},{"f":"3V","e":50,"v":0.97},{"f":"3V","e":60,"v":0.95},{"f":"3V","e":70,"v":0.93},{"f":"3V","e":80,"v":0.91},{"f":"3V","e":90,"v":0.895},{"f":"3V","e":100,"v":0.88},{"f":"3V","e":110,"v":0.865},{"f":"3V","e":120,"v":0.85},{"f":"3V","e":130,"v":0.835},{"f":"3V","e":140,"v":0.82},{"f":"3V","e":150,"v":0.81},{"f":"3V","e":160,"v":0.795},{"f":"3V","e":170,"v":0.78},{"f":"3V","e":180,"v":0.765},{"f":"3V","e":190,"v":0.75},{"f":"3V","e":200,"v":0.735},{"f":"3V","e":210,"v":0.725},{"f":"3V","e":220,"v":0.723},{"f":"3V","e":230,"v":0.722},{"f":"3V","e":240,"v":0.722},{"f":"3V","e":249,"v":0.722},
{"f":"4T","e":0,"v":1.74},{"f":"4T","e":3,"v":1.5},{"f":"4T","e":8,"v":1.35},{"f":"4T","e":15,"v":1.27},{"f":"4T","e":20,"v":1.23},{"f":"4T","e":30,"v":1.21},{"f":"4T","e":40,"v":1.16},{"f":"4T","e":50,"v":1.16},{"f":"4T","e":60,"v":1.12},{"f":"4T","e":70,"v":1.12},{"f":"4T","e":80,"v":1.08},{"f":"4T","e":90,"v":1.08},{"f":"4T","e":100,"v":1.04},{"f":"4T","e":110,"v":1.045},{"f":"4T","e":120,"v":1.0},{"f":"4T","e":130,"v":1.005},{"f":"4T","e":140,"v":0.965},{"f":"4T","e":150,"v":0.97},{"f":"4T","e":160,"v":0.93},{"f":"4T","e":170,"v":0.94},{"f":"4T","e":180,"v":0.9},{"f":"4T","e":190,"v":0.91},{"f":"4T","e":200,"v":0.875},{"f":"4T","e":210,"v":0.885},{"f":"4T","e":220,"v":0.85},{"f":"4T","e":230,"v":0.865},{"f":"4T","e":240,"v":0.835},{"f":"4T","e":249,"v":0.85},
{"f":"4V","e":0,"v":1.7},{"f":"4V","e":3,"v":1.36},{"f":"4V","e":8,"v":1.2},{"f":"4V","e":15,"v":1.12},{"f":"4V","e":20,"v":1.08},{"f":"4V","e":30,"v":1.05},{"f":"4V","e":40,"v":1.02},{"f":"4V","e":50,"v":1.0},{"f":"4V","e":60,"v":0.98},{"f":"4V","e":70,"v":0.96},{"f":"4V","e":80,"v":0.945},{"f":"4V","e":90,"v":0.93},{"f":"4V","e":100,"v":0.915},{"f":"4V","e":110,"v":0.9},{"f":"4V","e":120,"v":0.885},{"f":"4V","e":130,"v":0.87},{"f":"4V","e":140,"v":0.858},{"f":"4V","e":150,"v":0.845},{"f":"4V","e":160,"v":0.832},{"f":"4V","e":170,"v":0.82},{"f":"4V","e":180,"v":0.81},{"f":"4V","e":190,"v":0.8},{"f":"4V","e":200,"v":0.792},{"f":"4V","e":210,"v":0.785},{"f":"4V","e":220,"v":0.779},{"f":"4V","e":230,"v":0.775},{"f":"4V","e":240,"v":0.771},{"f":"4V","e":249,"v":0.77},
{"f":"5T","e":0,"v":1.77},{"f":"5T","e":3,"v":1.5},{"f":"5T","e":8,"v":1.34},{"f":"5T","e":15,"v":1.26},{"f":"5T","e":20,"v":1.22},{"f":"5T","e":30,"v":1.17},{"f":"5T","e":40,"v":1.17},{"f":"5T","e":50,"v":1.12},{"f":"5T","e":60,"v":1.12},{"f":"5T","e":70,"v":1.08},{"f":"5T","e":80,"v":1.08},{"f":"5T","e":90,"v":1.04},{"f":"5T","e":100,"v":1.04},{"f":"5T","e":110,"v":1.0},{"f":"5T","e":120,"v":1.0},{"f":"5T","e":130,"v":0.96},{"f":"5T","e":140,"v":0.96},{"f":"5T","e":150,"v":0.925},{"f":"5T","e":160,"v":0.93},{"f":"5T","e":170,"v":0.89},{"f":"5T","e":180,"v":0.9},{"f":"5T","e":190,"v":0.86},{"f":"5T","e":200,"v":0.87},{"f":"5T","e":210,"v":0.835},{"f":"5T","e":220,"v":0.84},{"f":"5T","e":230,"v":0.81},{"f":"5T","e":240,"v":0.81},{"f":"5T","e":249,"v":0.79},
{"f":"5V","e":0,"v":1.73},{"f":"5V","e":3,"v":1.4},{"f":"5V","e":8,"v":1.23},{"f":"5V","e":15,"v":1.14},{"f":"5V","e":20,"v":1.1},{"f":"5V","e":30,"v":1.06},{"f":"5V","e":40,"v":1.03},{"f":"5V","e":50,"v":1.005},{"f":"5V","e":60,"v":0.985},{"f":"5V","e":70,"v":0.965},{"f":"5V","e":80,"v":0.95},{"f":"5V","e":90,"v":0.935},{"f":"5V","e":100,"v":0.918},{"f":"5V","e":110,"v":0.903},{"f":"5V","e":120,"v":0.888},{"f":"5V","e":130,"v":0.874},{"f":"5V","e":140,"v":0.862},{"f":"5V","e":150,"v":0.85},{"f":"5V","e":160,"v":0.838},{"f":"5V","e":170,"v":0.825},{"f":"5V","e":180,"v":0.815},{"f":"5V","e":190,"v":0.805},{"f":"5V","e":200,"v":0.797},{"f":"5V","e":210,"v":0.79},{"f":"5V","e":220,"v":0.784},{"f":"5V","e":230,"v":0.78},{"f":"5V","e":240,"v":0.777},{"f":"5V","e":249,"v":0.775}
],
"c2":[
{"f":1,"e":0,"v":0.2},{"f":1,"e":3,"v":0.28},{"f":1,"e":8,"v":0.45},{"f":1,"e":15,"v":0.55},{"f":1,"e":20,"v":0.58},{"f":1,"e":30,"v":0.63},{"f":1,"e":40,"v":0.64},{"f":1,"e":50,"v":0.67},{"f":1,"e":60,"v":0.62},{"f":1,"e":70,"v":0.68},{"f":1,"e":80,"v":0.66},{"f":1,"e":90,"v":0.7},{"f":1,"e":100,"v":0.71},{"f":1,"e":110,"v":0.74},{"f":1,"e":120,"v":0.73},{"f":1,"e":130,"v":0.76},{"f":1,"e":140,"v":0.75},{"f":1,"e":150,"v":0.78},{"f":1,"e":160,"v":0.8},{"f":1,"e":170,"v":0.79},{"f":1,"e":180,"v":0.81},{"f":1,"e":190,"v":0.82},{"f":1,"e":200,"v":0.79},{"f":1,"e":210,"v":0.79},{"f":1,"e":220,"v":0.78},{"f":1,"e":230,"v":0.79},{"f":1,"e":240,"v":0.795},{"f":1,"e":249,"v":0.8},
{"f":2,"e":0,"v":0.17},{"f":2,"e":3,"v":0.3},{"f":2,"e":8,"v":0.44},{"f":2,"e":15,"v":0.53},{"f":2,"e":20,"v":0.6},{"f":2,"e":30,"v":0.62},{"f":2,"e":40,"v":0.6},{"f":2,"e":50,"v":0.56},{"f":2,"e":60,"v":0.65},{"f":2,"e":70,"v":0.63},{"f":2,"e":80,"v":0.6},{"f":2,"e":90,"v":0.68},{"f":2,"e":100,"v":0.7},{"f":2,"e":110,"v":0.69},{"f":2,"e":120,"v":0.72},{"f":2,"e":130,"v":0.67},{"f":2,"e":140,"v":0.75},{"f":2,"e":150,"v":0.76},{"f":2,"e":160,"v":0.78},{"f":2,"e":170,"v":0.8},{"f":2,"e":180,"v":0.79},{"f":2,"e":190,"v":0.8},{"f":2,"e":200,"v":0.8},{"f":2,"e":210,"v":0.8},{"f":2,"e":220,"v":0.81},{"f":2,"e":230,"v":0.805},{"f":2,"e":240,"v":0.81},{"f":2,"e":249,"v":0.81},
{"f":3,"e":0,"v":0.21},{"f":3,"e":3,"v":0.32},{"f":3,"e":8,"v":0.48},{"f":3,"e":15,"v":0.57},{"f":3,"e":20,"v":0.61},{"f":3,"e":30,"v":0.66},{"f":3,"e":40,"v":0.62},{"f":3,"e":50,"v":0.65},{"f":3,"e":60,"v":0.68},{"f":3,"e":70,"v":0.66},{"f":3,"e":80,"v":0.71},{"f":3,"e":90,"v":0.7},{"f":3,"e":100,"v":0.73},{"f":3,"e":110,"v":0.72},{"f":3,"e":120,"v":0.75},{"f":3,"e":130,"v":0.77},{"f":3,"e":140,"v":0.79},{"f":3,"e":150,"v":0.8},{"f":3,"e":160,"v":0.81},{"f":3,"e":170,"v":0.82},{"f":3,"e":180,"v":0.84},{"f":3,"e":190,"v":0.83},{"f":3,"e":200,"v":0.86},{"f":3,"e":210,"v":0.84},{"f":3,"e":220,"v":0.85},{"f":3,"e":230,"v":0.855},{"f":3,"e":240,"v":0.855},{"f":3,"e":249,"v":0.855},
{"f":4,"e":0,"v":0.22},{"f":4,"e":3,"v":0.3},{"f":4,"e":8,"v":0.44},{"f":4,"e":15,"v":0.5},{"f":4,"e":20,"v":0.6},{"f":4,"e":30,"v":0.65},{"f":4,"e":40,"v":0.68},{"f":4,"e":50,"v":0.73},{"f":4,"e":60,"v":0.67},{"f":4,"e":70,"v":0.7},{"f":4,"e":80,"v":0.72},{"f":4,"e":90,"v":0.71},{"f":4,"e":100,"v":0.74},{"f":4,"e":110,"v":0.73},{"f":4,"e":120,"v":0.76},{"f":4,"e":130,"v":0.78},{"f":4,"e":140,"v":0.79},{"f":4,"e":150,"v":0.81},{"f":4,"e":160,"v":0.8},{"f":4,"e":170,"v":0.82},{"f":4,"e":180,"v":0.81},{"f":4,"e":190,"v":0.83},{"f":4,"e":200,"v":0.82},{"f":4,"e":210,"v":0.83},{"f":4,"e":220,"v":0.82},{"f":4,"e":230,"v":0.82},{"f":4,"e":240,"v":0.82},{"f":4,"e":249,"v":0.82},
{"f":5,"e":0,"v":0.2},{"f":5,"e":3,"v":0.29},{"f":5,"e":8,"v":0.46},{"f":5,"e":15,"v":0.52},{"f":5,"e":20,"v":0.59},{"f":5,"e":30,"v":0.64},{"f":5,"e":40,"v":0.66},{"f":5,"e":50,"v":0.63},{"f":5,"e":60,"v":0.67},{"f":5,"e":70,"v":0.69},{"f":5,"e":80,"v":0.68},{"f":5,"e":90,"v":0.7},{"f":5,"e":100,"v":0.72},{"f":5,"e":110,"v":0.74},{"f":5,"e":120,"v":0.75},{"f":5,"e":130,"v":0.77},{"f":5,"e":140,"v":0.79},{"f":5,"e":150,"v":0.8},{"f":5,"e":160,"v":0.81},{"f":5,"e":170,"v":0.82},{"f":5,"e":180,"v":0.83},{"f":5,"e":190,"v":0.84},{"f":5,"e":200,"v":0.83},{"f":5,"e":210,"v":0.84},{"f":5,"e":220,"v":0.845},{"f":5,"e":230,"v":0.845},{"f":5,"e":240,"v":0.845},{"f":5,"e":249,"v":0.845},
{"f":1,"e":25,"v":0.61},{"f":1,"e":35,"v":0.66},{"f":1,"e":45,"v":0.62},{"f":1,"e":55,"v":0.6},{"f":1,"e":65,"v":0.66},{"f":1,"e":75,"v":0.64},{"f":1,"e":85,"v":0.69},{"f":1,"e":95,"v":0.68},{"f":1,"e":105,"v":0.73},{"f":1,"e":115,"v":0.71},{"f":1,"e":125,"v":0.75},{"f":1,"e":135,"v":0.74},{"f":1,"e":145,"v":0.77},{"f":1,"e":155,"v":0.79},{"f":1,"e":165,"v":0.78},{"f":1,"e":175,"v":0.8},{"f":1,"e":185,"v":0.79},{"f":1,"e":195,"v":0.8},{"f":1,"e":205,"v":0.78},{"f":1,"e":215,"v":0.8},{"f":1,"e":225,"v":0.785},{"f":1,"e":235,"v":0.79},
{"f":2,"e":25,"v":0.58},{"f":2,"e":35,"v":0.64},{"f":2,"e":45,"v":0.54},{"f":2,"e":55,"v":0.62},{"f":2,"e":65,"v":0.6},{"f":2,"e":75,"v":0.66},{"f":2,"e":85,"v":0.57},{"f":2,"e":95,"v":0.66},{"f":2,"e":105,"v":0.68},{"f":2,"e":115,"v":0.71},{"f":2,"e":125,"v":0.7},{"f":2,"e":135,"v":0.73},{"f":2,"e":145,"v":0.72},{"f":2,"e":155,"v":0.78},{"f":2,"e":165,"v":0.77},{"f":2,"e":175,"v":0.79},{"f":2,"e":185,"v":0.81},{"f":2,"e":195,"v":0.79},{"f":2,"e":205,"v":0.81},{"f":2,"e":215,"v":0.8},{"f":2,"e":225,"v":0.805},{"f":2,"e":235,"v":0.81},
{"f":3,"e":25,"v":0.63},{"f":3,"e":35,"v":0.6},{"f":3,"e":45,"v":0.67},{"f":3,"e":55,"v":0.63},{"f":3,"e":65,"v":0.7},{"f":3,"e":75,"v":0.68},{"f":3,"e":85,"v":0.69},{"f":3,"e":95,"v":0.72},{"f":3,"e":105,"v":0.71},{"f":3,"e":115,"v":0.74},{"f":3,"e":125,"v":0.76},{"f":3,"e":135,"v":0.78},{"f":3,"e":145,"v":0.8},{"f":3,"e":155,"v":0.79},{"f":3,"e":165,"v":0.83},{"f":3,"e":175,"v":0.81},{"f":3,"e":185,"v":0.83},{"f":3,"e":195,"v":0.85},{"f":3,"e":205,"v":0.85},{"f":3,"e":215,"v":0.86},{"f":3,"e":225,"v":0.85},{"f":3,"e":235,"v":0.855},
{"f":4,"e":25,"v":0.63},{"f":4,"e":35,"v":0.7},{"f":4,"e":45,"v":0.65},{"f":4,"e":55,"v":0.69},{"f":4,"e":65,"v":0.72},{"f":4,"e":75,"v":0.68},{"f":4,"e":85,"v":0.7},{"f":4,"e":95,"v":0.73},{"f":4,"e":105,"v":0.72},{"f":4,"e":115,"v":0.75},{"f":4,"e":125,"v":0.77},{"f":4,"e":135,"v":0.76},{"f":4,"e":145,"v":0.8},{"f":4,"e":155,"v":0.79},{"f":4,"e":165,"v":0.81},{"f":4,"e":175,"v":0.8},{"f":4,"e":185,"v":0.82},{"f":4,"e":195,"v":0.81},{"f":4,"e":205,"v":0.835},{"f":4,"e":215,"v":0.82},{"f":4,"e":225,"v":0.825},{"f":4,"e":235,"v":0.82},
{"f":5,"e":25,"v":0.66},{"f":5,"e":35,"v":0.62},{"f":5,"e":45,"v":0.68},{"f":5,"e":55,"v":0.66},{"f":5,"e":65,"v":0.65},{"f":5,"e":75,"v":0.7},{"f":5,"e":85,"v":0.71},{"f":5,"e":95,"v":0.73},{"f":5,"e":105,"v":0.7},{"f":5,"e":115,"v":0.73},{"f":5,"e":125,"v":0.77},{"f":5,"e":135,"v":0.76},{"f":5,"e":145,"v":0.78},{"f":5,"e":155,"v":0.81},{"f":5,"e":165,"v":0.8},{"f":5,"e":175,"v":0.83},{"f":5,"e":185,"v":0.82},{"f":5,"e":195,"v":0.85},{"f":5,"e":205,"v":0.84},{"f":5,"e":215,"v":0.83},{"f":5,"e":225,"v":0.845},{"f":5,"e":235,"v":0.845}
],
"m2":[
{"f":1,"e":0,"v":0.782},{"f":1,"e":10,"v":0.782},{"f":1,"e":15,"v":0.86},{"f":1,"e":20,"v":0.82},{"f":1,"e":30,"v":0.85},{"f":1,"e":40,"v":0.81},{"f":1,"e":50,"v":0.86},{"f":1,"e":60,"v":0.83},{"f":1,"e":70,"v":0.87},{"f":1,"e":80,"v":0.81},{"f":1,"e":90,"v":0.88},{"f":1,"e":100,"v":0.86},{"f":1,"e":110,"v":0.89},{"f":1,"e":120,"v":0.87},{"f":1,"e":130,"v":0.85},{"f":1,"e":140,"v":0.9},{"f":1,"e":150,"v":0.88},{"f":1,"e":160,"v":0.9},{"f":1,"e":170,"v":0.89},{"f":1,"e":180,"v":0.91},{"f":1,"e":190,"v":0.9},{"f":1,"e":200,"v":0.92},{"f":1,"e":210,"v":0.91},{"f":1,"e":220,"v":0.915},{"f":1,"e":230,"v":0.912},{"f":1,"e":240,"v":0.918},{"f":1,"e":249,"v":0.918},
{"f":2,"e":0,"v":0.781},{"f":2,"e":10,"v":0.781},{"f":2,"e":15,"v":0.8},{"f":2,"e":20,"v":0.86},{"f":2,"e":30,"v":0.82},{"f":2,"e":40,"v":0.87},{"f":2,"e":50,"v":0.8},{"f":2,"e":60,"v":0.88},{"f":2,"e":70,"v":0.84},{"f":2,"e":80,"v":0.87},{"f":2,"e":90,"v":0.85},{"f":2,"e":100,"v":0.89},{"f":2,"e":110,"v":0.86},{"f":2,"e":120,"v":0.9},{"f":2,"e":130,"v":0.88},{"f":2,"e":140,"v":0.85},{"f":2,"e":150,"v":0.9},{"f":2,"e":160,"v":0.88},{"f":2,"e":170,"v":0.91},{"f":2,"e":180,"v":0.89},{"f":2,"e":190,"v":0.92},{"f":2,"e":200,"v":0.91},{"f":2,"e":210,"v":0.905},{"f":2,"e":220,"v":0.915},{"f":2,"e":230,"v":0.913},{"f":2,"e":240,"v":0.915},{"f":2,"e":249,"v":0.915},
{"f":3,"e":0,"v":0.782},{"f":3,"e":10,"v":0.782},{"f":3,"e":15,"v":0.84},{"f":3,"e":20,"v":0.87},{"f":3,"e":30,"v":0.8},{"f":3,"e":40,"v":0.86},{"f":3,"e":50,"v":0.84},{"f":3,"e":60,"v":0.776},{"f":3,"e":70,"v":0.87},{"f":3,"e":80,"v":0.86},{"f":3,"e":90,"v":0.88},{"f":3,"e":100,"v":0.87},{"f":3,"e":110,"v":0.9},{"f":3,"e":120,"v":0.88},{"f":3,"e":130,"v":0.86},{"f":3,"e":140,"v":0.9},{"f":3,"e":150,"v":0.89},{"f":3,"e":160,"v":0.91},{"f":3,"e":170,"v":0.9},{"f":3,"e":180,"v":0.92},{"f":3,"e":190,"v":0.91},{"f":3,"e":200,"v":0.93},{"f":3,"e":210,"v":0.92},{"f":3,"e":220,"v":0.935},{"f":3,"e":230,"v":0.926},{"f":3,"e":240,"v":0.94},{"f":3,"e":249,"v":0.937},
{"f":4,"e":0,"v":0.783},{"f":4,"e":10,"v":0.783},{"f":4,"e":15,"v":0.79},{"f":4,"e":20,"v":0.88},{"f":4,"e":30,"v":0.83},{"f":4,"e":40,"v":0.87},{"f":4,"e":50,"v":0.85},{"f":4,"e":60,"v":0.89},{"f":4,"e":70,"v":0.86},{"f":4,"e":80,"v":0.9},{"f":4,"e":90,"v":0.88},{"f":4,"e":100,"v":0.91},{"f":4,"e":110,"v":0.89},{"f":4,"e":120,"v":0.92},{"f":4,"e":130,"v":0.9},{"f":4,"e":140,"v":0.93},{"f":4,"e":150,"v":0.91},{"f":4,"e":160,"v":0.94},{"f":4,"e":170,"v":0.93},{"f":4,"e":180,"v":0.935},{"f":4,"e":190,"v":0.93},{"f":4,"e":200,"v":0.945},{"f":4,"e":210,"v":0.94},{"f":4,"e":220,"v":0.942},{"f":4,"e":230,"v":0.94},{"f":4,"e":240,"v":0.932},{"f":4,"e":249,"v":0.932},
{"f":5,"e":0,"v":0.781},{"f":5,"e":10,"v":0.781},{"f":5,"e":15,"v":0.83},{"f":5,"e":20,"v":0.85},{"f":5,"e":30,"v":0.89},{"f":5,"e":40,"v":0.84},{"f":5,"e":50,"v":0.87},{"f":5,"e":60,"v":0.85},{"f":5,"e":70,"v":0.88},{"f":5,"e":80,"v":0.86},{"f":5,"e":90,"v":0.89},{"f":5,"e":100,"v":0.87},{"f":5,"e":110,"v":0.9},{"f":5,"e":120,"v":0.88},{"f":5,"e":130,"v":0.91},{"f":5,"e":140,"v":0.89},{"f":5,"e":150,"v":0.9},{"f":5,"e":160,"v":0.91},{"f":5,"e":170,"v":0.9},{"f":5,"e":180,"v":0.915},{"f":5,"e":190,"v":0.91},{"f":5,"e":200,"v":0.92},{"f":5,"e":210,"v":0.915},{"f":5,"e":220,"v":0.92},{"f":5,"e":230,"v":0.921},{"f":5,"e":240,"v":0.921},{"f":5,"e":249,"v":0.921},
{"f":1,"e":25,"v":0.8},{"f":1,"e":35,"v":0.87},{"f":1,"e":45,"v":0.84},{"f":1,"e":55,"v":0.82},{"f":1,"e":65,"v":0.88},{"f":1,"e":75,"v":0.84},{"f":1,"e":85,"v":0.86},{"f":1,"e":95,"v":0.84},{"f":1,"e":105,"v":0.9},{"f":1,"e":115,"v":0.86},{"f":1,"e":125,"v":0.89},{"f":1,"e":135,"v":0.88},{"f":1,"e":145,"v":0.87},{"f":1,"e":155,"v":0.91},{"f":1,"e":165,"v":0.88},{"f":1,"e":175,"v":0.905},{"f":1,"e":185,"v":0.89},{"f":1,"e":195,"v":0.915},{"f":1,"e":205,"v":0.9},{"f":1,"e":215,"v":0.92},{"f":1,"e":225,"v":0.91},
{"f":2,"e":25,"v":0.83},{"f":2,"e":35,"v":0.8},{"f":2,"e":45,"v":0.84},{"f":2,"e":55,"v":0.86},{"f":2,"e":65,"v":0.82},{"f":2,"e":75,"v":0.88},{"f":2,"e":85,"v":0.83},{"f":2,"e":95,"v":0.87},{"f":2,"e":105,"v":0.84},{"f":2,"e":115,"v":0.89},{"f":2,"e":125,"v":0.86},{"f":2,"e":135,"v":0.9},{"f":2,"e":145,"v":0.88},{"f":2,"e":155,"v":0.87},{"f":2,"e":165,"v":0.9},{"f":2,"e":175,"v":0.88},{"f":2,"e":185,"v":0.91},{"f":2,"e":195,"v":0.9},{"f":2,"e":205,"v":0.92},{"f":2,"e":215,"v":0.9},{"f":2,"e":225,"v":0.91},
{"f":3,"e":25,"v":0.82},{"f":3,"e":35,"v":0.85},{"f":3,"e":45,"v":0.81},{"f":3,"e":55,"v":0.87},{"f":3,"e":65,"v":0.83},{"f":3,"e":75,"v":0.85},{"f":3,"e":85,"v":0.89},{"f":3,"e":95,"v":0.86},{"f":3,"e":105,"v":0.89},{"f":3,"e":115,"v":0.87},{"f":3,"e":125,"v":0.9},{"f":3,"e":135,"v":0.88},{"f":3,"e":145,"v":0.87},{"f":3,"e":155,"v":0.91},{"f":3,"e":165,"v":0.89},{"f":3,"e":175,"v":0.915},{"f":3,"e":185,"v":0.9},{"f":3,"e":195,"v":0.92},{"f":3,"e":205,"v":0.91},{"f":3,"e":215,"v":0.93},{"f":3,"e":225,"v":0.92},
{"f":4,"e":25,"v":0.86},{"f":4,"e":35,"v":0.89},{"f":4,"e":45,"v":0.83},{"f":4,"e":55,"v":0.88},{"f":4,"e":65,"v":0.87},{"f":4,"e":75,"v":0.91},{"f":4,"e":85,"v":0.87},{"f":4,"e":95,"v":0.9},{"f":4,"e":105,"v":0.89},{"f":4,"e":115,"v":0.92},{"f":4,"e":125,"v":0.89},{"f":4,"e":135,"v":0.92},{"f":4,"e":145,"v":0.91},{"f":4,"e":155,"v":0.93},{"f":4,"e":165,"v":0.92},{"f":4,"e":175,"v":0.94},{"f":4,"e":185,"v":0.925},{"f":4,"e":195,"v":0.94},{"f":4,"e":205,"v":0.93},{"f":4,"e":215,"v":0.945},{"f":4,"e":225,"v":0.935},
{"f":5,"e":25,"v":0.87},{"f":5,"e":35,"v":0.83},{"f":5,"e":45,"v":0.88},{"f":5,"e":55,"v":0.84},{"f":5,"e":65,"v":0.87},{"f":5,"e":75,"v":0.85},{"f":5,"e":85,"v":0.89},{"f":5,"e":95,"v":0.86},{"f":5,"e":105,"v":0.88},{"f":5,"e":115,"v":0.89},{"f":5,"e":125,"v":0.87},{"f":5,"e":135,"v":0.9},{"f":5,"e":145,"v":0.91},{"f":5,"e":155,"v":0.89},{"f":5,"e":165,"v":0.905},{"f":5,"e":175,"v":0.92},{"f":5,"e":185,"v":0.9},{"f":5,"e":195,"v":0.915},{"f":5,"e":205,"v":0.93},{"f":5,"e":215,"v":0.91},{"f":5,"e":225,"v":0.925}
],
"d2":[
{"f":1,"e":0,"v":0.28},{"f":1,"e":3,"v":0.44},{"f":1,"e":8,"v":0.5},{"f":1,"e":15,"v":0.53},{"f":1,"e":20,"v":0.55},{"f":1,"e":30,"v":0.58},{"f":1,"e":40,"v":0.6},{"f":1,"e":50,"v":0.61},{"f":1,"e":60,"v":0.64},{"f":1,"e":70,"v":0.64},{"f":1,"e":80,"v":0.66},{"f":1,"e":90,"v":0.665},{"f":1,"e":100,"v":0.675},{"f":1,"e":110,"v":0.69},{"f":1,"e":120,"v":0.7},{"f":1,"e":130,"v":0.705},{"f":1,"e":140,"v":0.71},{"f":1,"e":150,"v":0.72},{"f":1,"e":160,"v":0.725},{"f":1,"e":170,"v":0.735},{"f":1,"e":180,"v":0.74},{"f":1,"e":190,"v":0.745},{"f":1,"e":200,"v":0.75},{"f":1,"e":210,"v":0.752},{"f":1,"e":220,"v":0.755},{"f":1,"e":230,"v":0.758},{"f":1,"e":240,"v":0.76},{"f":1,"e":249,"v":0.762},
{"f":2,"e":0,"v":0.235},{"f":2,"e":3,"v":0.25},{"f":2,"e":8,"v":0.49},{"f":2,"e":15,"v":0.5},{"f":2,"e":20,"v":0.51},{"f":2,"e":30,"v":0.5},{"f":2,"e":35,"v":0.43},{"f":2,"e":40,"v":0.5},{"f":2,"e":50,"v":0.52},{"f":2,"e":60,"v":0.57},{"f":2,"e":70,"v":0.58},{"f":2,"e":80,"v":0.59},{"f":2,"e":90,"v":0.6},{"f":2,"e":100,"v":0.605},{"f":2,"e":110,"v":0.615},{"f":2,"e":120,"v":0.63},{"f":2,"e":130,"v":0.625},{"f":2,"e":140,"v":0.64},{"f":2,"e":150,"v":0.655},{"f":2,"e":160,"v":0.675},{"f":2,"e":170,"v":0.7},{"f":2,"e":180,"v":0.715},{"f":2,"e":190,"v":0.725},{"f":2,"e":200,"v":0.733},{"f":2,"e":210,"v":0.738},{"f":2,"e":220,"v":0.742},{"f":2,"e":230,"v":0.746},{"f":2,"e":240,"v":0.75},{"f":2,"e":249,"v":0.752},
{"f":3,"e":0,"v":0.14},{"f":3,"e":3,"v":0.4},{"f":3,"e":8,"v":0.5},{"f":3,"e":15,"v":0.53},{"f":3,"e":20,"v":0.55},{"f":3,"e":30,"v":0.59},{"f":3,"e":40,"v":0.6},{"f":3,"e":50,"v":0.62},{"f":3,"e":60,"v":0.64},{"f":3,"e":70,"v":0.645},{"f":3,"e":80,"v":0.66},{"f":3,"e":90,"v":0.665},{"f":3,"e":100,"v":0.68},{"f":3,"e":110,"v":0.69},{"f":3,"e":120,"v":0.695},{"f":3,"e":130,"v":0.705},{"f":3,"e":140,"v":0.71},{"f":3,"e":150,"v":0.715},{"f":3,"e":160,"v":0.73},{"f":3,"e":170,"v":0.74},{"f":3,"e":180,"v":0.75},{"f":3,"e":190,"v":0.758},{"f":3,"e":200,"v":0.762},{"f":3,"e":210,"v":0.766},{"f":3,"e":220,"v":0.768},{"f":3,"e":230,"v":0.77},{"f":3,"e":240,"v":0.771},{"f":3,"e":249,"v":0.771},
{"f":4,"e":0,"v":0.24},{"f":4,"e":3,"v":0.26},{"f":4,"e":8,"v":0.5},{"f":4,"e":15,"v":0.52},{"f":4,"e":20,"v":0.52},{"f":4,"e":30,"v":0.54},{"f":4,"e":40,"v":0.57},{"f":4,"e":50,"v":0.6},{"f":4,"e":60,"v":0.61},{"f":4,"e":70,"v":0.615},{"f":4,"e":80,"v":0.62},{"f":4,"e":90,"v":0.625},{"f":4,"e":100,"v":0.635},{"f":4,"e":110,"v":0.645},{"f":4,"e":120,"v":0.66},{"f":4,"e":130,"v":0.665},{"f":4,"e":140,"v":0.68},{"f":4,"e":150,"v":0.695},{"f":4,"e":160,"v":0.705},{"f":4,"e":170,"v":0.715},{"f":4,"e":180,"v":0.722},{"f":4,"e":190,"v":0.728},{"f":4,"e":200,"v":0.733},{"f":4,"e":210,"v":0.737},{"f":4,"e":220,"v":0.74},{"f":4,"e":230,"v":0.743},{"f":4,"e":240,"v":0.745},{"f":4,"e":249,"v":0.745},
{"f":5,"e":0,"v":0.24},{"f":5,"e":3,"v":0.35},{"f":5,"e":8,"v":0.44},{"f":5,"e":15,"v":0.47},{"f":5,"e":20,"v":0.48},{"f":5,"e":30,"v":0.52},{"f":5,"e":40,"v":0.55},{"f":5,"e":50,"v":0.57},{"f":5,"e":60,"v":0.59},{"f":5,"e":70,"v":0.6},{"f":5,"e":80,"v":0.61},{"f":5,"e":90,"v":0.625},{"f":5,"e":100,"v":0.635},{"f":5,"e":110,"v":0.65},{"f":5,"e":120,"v":0.665},{"f":5,"e":130,"v":0.67},{"f":5,"e":140,"v":0.665},{"f":5,"e":150,"v":0.7},{"f":5,"e":160,"v":0.705},{"f":5,"e":170,"v":0.715},{"f":5,"e":180,"v":0.725},{"f":5,"e":190,"v":0.735},{"f":5,"e":200,"v":0.74},{"f":5,"e":210,"v":0.745},{"f":5,"e":220,"v":0.748},{"f":5,"e":230,"v":0.75},{"f":5,"e":240,"v":0.752},{"f":5,"e":249,"v":0.752}
],
"i2":[
{"f":1,"e":0,"v":0.175},{"f":1,"e":3,"v":0.3},{"f":1,"e":8,"v":0.36},{"f":1,"e":15,"v":0.4},{"f":1,"e":20,"v":0.42},{"f":1,"e":30,"v":0.45},{"f":1,"e":40,"v":0.47},{"f":1,"e":50,"v":0.48},{"f":1,"e":60,"v":0.5},{"f":1,"e":70,"v":0.515},{"f":1,"e":80,"v":0.525},{"f":1,"e":90,"v":0.54},{"f":1,"e":100,"v":0.55},{"f":1,"e":110,"v":0.56},{"f":1,"e":120,"v":0.575},{"f":1,"e":130,"v":0.585},{"f":1,"e":140,"v":0.59},{"f":1,"e":150,"v":0.6},{"f":1,"e":160,"v":0.61},{"f":1,"e":170,"v":0.62},{"f":1,"e":180,"v":0.625},{"f":1,"e":190,"v":0.63},{"f":1,"e":200,"v":0.635},{"f":1,"e":210,"v":0.638},{"f":1,"e":220,"v":0.64},{"f":1,"e":230,"v":0.643},{"f":1,"e":240,"v":0.645},{"f":1,"e":249,"v":0.645},
{"f":2,"e":0,"v":0.14},{"f":2,"e":3,"v":0.15},{"f":2,"e":8,"v":0.33},{"f":2,"e":15,"v":0.35},{"f":2,"e":20,"v":0.36},{"f":2,"e":30,"v":0.36},{"f":2,"e":35,"v":0.3},{"f":2,"e":40,"v":0.37},{"f":2,"e":50,"v":0.4},{"f":2,"e":60,"v":0.43},{"f":2,"e":70,"v":0.45},{"f":2,"e":80,"v":0.46},{"f":2,"e":90,"v":0.47},{"f":2,"e":100,"v":0.475},{"f":2,"e":110,"v":0.485},{"f":2,"e":120,"v":0.495},{"f":2,"e":130,"v":0.5},{"f":2,"e":140,"v":0.505},{"f":2,"e":150,"v":0.52},{"f":2,"e":160,"v":0.555},{"f":2,"e":170,"v":0.575},{"f":2,"e":180,"v":0.59},{"f":2,"e":190,"v":0.605},{"f":2,"e":200,"v":0.617},{"f":2,"e":210,"v":0.625},{"f":2,"e":220,"v":0.63},{"f":2,"e":230,"v":0.635},{"f":2,"e":240,"v":0.638},{"f":2,"e":249,"v":0.64},
{"f":3,"e":0,"v":0.08},{"f":3,"e":3,"v":0.28},{"f":3,"e":8,"v":0.36},{"f":3,"e":15,"v":0.4},{"f":3,"e":20,"v":0.42},{"f":3,"e":30,"v":0.45},{"f":3,"e":40,"v":0.47},{"f":3,"e":50,"v":0.49},{"f":3,"e":60,"v":0.51},{"f":3,"e":70,"v":0.52},{"f":3,"e":80,"v":0.53},{"f":3,"e":90,"v":0.545},{"f":3,"e":100,"v":0.555},{"f":3,"e":110,"v":0.565},{"f":3,"e":120,"v":0.58},{"f":3,"e":130,"v":0.59},{"f":3,"e":140,"v":0.6},{"f":3,"e":150,"v":0.605},{"f":3,"e":160,"v":0.615},{"f":3,"e":170,"v":0.625},{"f":3,"e":180,"v":0.635},{"f":3,"e":190,"v":0.642},{"f":3,"e":200,"v":0.648},{"f":3,"e":210,"v":0.652},{"f":3,"e":220,"v":0.655},{"f":3,"e":230,"v":0.658},{"f":3,"e":240,"v":0.66},{"f":3,"e":249,"v":0.66},
{"f":4,"e":0,"v":0.14},{"f":4,"e":3,"v":0.25},{"f":4,"e":8,"v":0.36},{"f":4,"e":15,"v":0.375},{"f":4,"e":20,"v":0.38},{"f":4,"e":30,"v":0.4},{"f":4,"e":40,"v":0.43},{"f":4,"e":50,"v":0.45},{"f":4,"e":60,"v":0.47},{"f":4,"e":70,"v":0.48},{"f":4,"e":80,"v":0.49},{"f":4,"e":90,"v":0.495},{"f":4,"e":100,"v":0.505},{"f":4,"e":110,"v":0.515},{"f":4,"e":120,"v":0.53},{"f":4,"e":130,"v":0.545},{"f":4,"e":140,"v":0.56},{"f":4,"e":150,"v":0.575},{"f":4,"e":160,"v":0.59},{"f":4,"e":170,"v":0.6},{"f":4,"e":180,"v":0.607},{"f":4,"e":190,"v":0.613},{"f":4,"e":200,"v":0.618},{"f":4,"e":210,"v":0.622},{"f":4,"e":220,"v":0.625},{"f":4,"e":230,"v":0.628},{"f":4,"e":240,"v":0.63},{"f":4,"e":249,"v":0.63},
{"f":5,"e":0,"v":0.14},{"f":5,"e":3,"v":0.2},{"f":5,"e":8,"v":0.29},{"f":5,"e":15,"v":0.33},{"f":5,"e":20,"v":0.35},{"f":5,"e":30,"v":0.39},{"f":5,"e":40,"v":0.42},{"f":5,"e":50,"v":0.44},{"f":5,"e":60,"v":0.46},{"f":5,"e":70,"v":0.47},{"f":5,"e":80,"v":0.48},{"f":5,"e":90,"v":0.5},{"f":5,"e":100,"v":0.515},{"f":5,"e":110,"v":0.53},{"f":5,"e":120,"v":0.545},{"f":5,"e":130,"v":0.555},{"f":5,"e":140,"v":0.56},{"f":5,"e":150,"v":0.59},{"f":5,"e":160,"v":0.6},{"f":5,"e":170,"v":0.605},{"f":5,"e":180,"v":0.613},{"f":5,"e":190,"v":0.62},{"f":5,"e":200,"v":0.628},{"f":5,"e":210,"v":0.632},{"f":5,"e":220,"v":0.635},{"f":5,"e":230,"v":0.638},{"f":5,"e":240,"v":0.64},{"f":5,"e":249,"v":0.64}
],
"l3":[
{"f":"1T","e":0,"v":1.88},{"f":"1T","e":3,"v":1.7},{"f":"1T","e":8,"v":1.52},{"f":"1T","e":15,"v":1.39},{"f":"1T","e":20,"v":1.33},{"f":"1T","e":30,"v":1.24},{"f":"1T","e":40,"v":1.17},{"f":"1T","e":50,"v":1.14},{"f":"1T","e":60,"v":1.09},{"f":"1T","e":70,"v":1.08},{"f":"1T","e":80,"v":1.03},{"f":"1T","e":90,"v":1.01},{"f":"1T","e":100,"v":0.97},{"f":"1T","e":110,"v":0.96},{"f":"1T","e":120,"v":0.915},{"f":"1T","e":130,"v":0.905},{"f":"1T","e":140,"v":0.87},{"f":"1T","e":150,"v":0.855},{"f":"1T","e":160,"v":0.82},{"f":"1T","e":170,"v":0.805},{"f":"1T","e":180,"v":0.765},{"f":"1T","e":190,"v":0.745},{"f":"1T","e":200,"v":0.71},{"f":"1T","e":210,"v":0.7},{"f":"1T","e":220,"v":0.665},{"f":"1T","e":230,"v":0.67},{"f":"1T","e":240,"v":0.635},{"f":"1T","e":249,"v":0.64},
{"f":"1V","e":0,"v":1.85},{"f":"1V","e":3,"v":1.5},{"f":"1V","e":8,"v":1.28},{"f":"1V","e":15,"v":1.16},{"f":"1V","e":20,"v":1.1},{"f":"1V","e":30,"v":1.05},{"f":"1V","e":40,"v":1.01},{"f":"1V","e":50,"v":1.0},{"f":"1V","e":60,"v":0.97},{"f":"1V","e":70,"v":0.975},{"f":"1V","e":80,"v":0.94},{"f":"1V","e":90,"v":0.935},{"f":"1V","e":100,"v":0.9},{"f":"1V","e":110,"v":0.9},{"f":"1V","e":120,"v":0.875},{"f":"1V","e":130,"v":0.87},{"f":"1V","e":140,"v":0.85},{"f":"1V","e":150,"v":0.85},{"f":"1V","e":160,"v":0.83},{"f":"1V","e":170,"v":0.835},{"f":"1V","e":180,"v":0.81},{"f":"1V","e":190,"v":0.82},{"f":"1V","e":200,"v":0.8},{"f":"1V","e":210,"v":0.81},{"f":"1V","e":220,"v":0.808},{"f":"1V","e":230,"v":0.809},{"f":"1V","e":240,"v":0.809},{"f":"1V","e":249,"v":0.809},
{"f":"2T","e":0,"v":1.9},{"f":"2T","e":3,"v":1.72},{"f":"2T","e":8,"v":1.54},{"f":"2T","e":15,"v":1.4},{"f":"2T","e":20,"v":1.34},{"f":"2T","e":30,"v":1.22},{"f":"2T","e":40,"v":1.19},{"f":"2T","e":50,"v":1.12},{"f":"2T","e":60,"v":1.11},{"f":"2T","e":70,"v":1.06},{"f":"2T","e":80,"v":1.05},{"f":"2T","e":90,"v":0.99},{"f":"2T","e":100,"v":0.985},{"f":"2T","e":110,"v":0.94},{"f":"2T","e":120,"v":0.93},{"f":"2T","e":130,"v":0.89},{"f":"2T","e":140,"v":0.885},{"f":"2T","e":150,"v":0.84},{"f":"2T","e":160,"v":0.83},{"f":"2T","e":170,"v":0.79},{"f":"2T","e":180,"v":0.78},{"f":"2T","e":190,"v":0.73},{"f":"2T","e":200,"v":0.725},{"f":"2T","e":210,"v":0.68},{"f":"2T","e":220,"v":0.69},{"f":"2T","e":230,"v":0.645},{"f":"2T","e":240,"v":0.66},{"f":"2T","e":249,"v":0.62},
{"f":"2V","e":0,"v":1.8},{"f":"2V","e":3,"v":1.45},{"f":"2V","e":8,"v":1.26},{"f":"2V","e":15,"v":1.14},{"f":"2V","e":20,"v":1.09},{"f":"2V","e":30,"v":1.04},{"f":"2V","e":40,"v":1.28},{"f":"2V","e":50,"v":0.99},{"f":"2V","e":60,"v":0.97},{"f":"2V","e":70,"v":0.955},{"f":"2V","e":80,"v":0.94},{"f":"2V","e":90,"v":0.92},{"f":"2V","e":100,"v":0.905},{"f":"2V","e":110,"v":0.89},{"f":"2V","e":120,"v":0.88},{"f":"2V","e":130,"v":0.86},{"f":"2V","e":140,"v":0.85},{"f":"2V","e":150,"v":0.835},{"f":"2V","e":160,"v":0.825},{"f":"2V","e":170,"v":0.81},{"f":"2V","e":180,"v":0.8},{"f":"2V","e":190,"v":0.79},{"f":"2V","e":200,"v":0.78},{"f":"2V","e":210,"v":0.775},{"f":"2V","e":220,"v":0.775},{"f":"2V","e":230,"v":0.775},{"f":"2V","e":240,"v":0.775},{"f":"2V","e":249,"v":0.775},
{"f":"3T","e":0,"v":1.95},{"f":"3T","e":3,"v":1.74},{"f":"3T","e":8,"v":1.55},{"f":"3T","e":15,"v":1.41},{"f":"3T","e":20,"v":1.35},{"f":"3T","e":30,"v":1.25},{"f":"3T","e":40,"v":1.18},{"f":"3T","e":50,"v":1.15},{"f":"3T","e":60,"v":1.1},{"f":"3T","e":70,"v":1.08},{"f":"3T","e":80,"v":1.04},{"f":"3T","e":90,"v":1.0},{"f":"3T","e":100,"v":0.98},{"f":"3T","e":110,"v":0.945},{"f":"3T","e":120,"v":0.925},{"f":"3T","e":130,"v":0.895},{"f":"3T","e":140,"v":0.88},{"f":"3T","e":150,"v":0.845},{"f":"3T","e":160,"v":0.83},{"f":"3T","e":170,"v":0.795},{"f":"3T","e":180,"v":0.775},{"f":"3T","e":190,"v":0.735},{"f":"3T","e":200,"v":0.72},{"f":"3T","e":210,"v":0.685},{"f":"3T","e":220,"v":0.68},{"f":"3T","e":230,"v":0.65},{"f":"3T","e":240,"v":0.655},{"f":"3T","e":249,"v":0.625},
{"f":"3V","e":0,"v":1.83},{"f":"3V","e":3,"v":1.48},{"f":"3V","e":8,"v":1.27},{"f":"3V","e":15,"v":1.13},{"f":"3V","e":20,"v":1.08},{"f":"3V","e":30,"v":1.01},{"f":"3V","e":40,"v":0.99},{"f":"3V","e":50,"v":0.96},{"f":"3V","e":60,"v":0.95},{"f":"3V","e":70,"v":0.92},{"f":"3V","e":80,"v":0.925},{"f":"3V","e":90,"v":0.89},{"f":"3V","e":100,"v":0.895},{"f":"3V","e":110,"v":0.86},{"f":"3V","e":120,"v":0.865},{"f":"3V","e":130,"v":0.835},{"f":"3V","e":140,"v":0.83},{"f":"3V","e":150,"v":0.81},{"f":"3V","e":160,"v":0.8},{"f":"3V","e":170,"v":0.79},{"f":"3V","e":180,"v":0.785},{"f":"3V","e":190,"v":0.78},{"f":"3V","e":200,"v":0.775},{"f":"3V","e":210,"v":0.784},{"f":"3V","e":220,"v":0.784},{"f":"3V","e":230,"v":0.784},{"f":"3V","e":240,"v":0.784},{"f":"3V","e":249,"v":0.784},
{"f":"4T","e":0,"v":1.86},{"f":"4T","e":3,"v":1.69},{"f":"4T","e":8,"v":1.5},{"f":"4T","e":15,"v":1.37},{"f":"4T","e":20,"v":1.32},{"f":"4T","e":30,"v":1.23},{"f":"4T","e":40,"v":1.19},{"f":"4T","e":50,"v":1.13},{"f":"4T","e":60,"v":1.1},{"f":"4T","e":70,"v":1.07},{"f":"4T","e":80,"v":1.04},{"f":"4T","e":90,"v":1.01},{"f":"4T","e":100,"v":0.97},{"f":"4T","e":110,"v":0.955},{"f":"4T","e":120,"v":0.92},{"f":"4T","e":130,"v":0.9},{"f":"4T","e":140,"v":0.875},{"f":"4T","e":150,"v":0.86},{"f":"4T","e":160,"v":0.825},{"f":"4T","e":170,"v":0.81},{"f":"4T","e":180,"v":0.77},{"f":"4T","e":190,"v":0.75},{"f":"4T","e":200,"v":0.715},{"f":"4T","e":210,"v":0.705},{"f":"4T","e":220,"v":0.67},{"f":"4T","e":230,"v":0.675},{"f":"4T","e":240,"v":0.64},{"f":"4T","e":249,"v":0.66},
{"f":"4V","e":0,"v":1.82},{"f":"4V","e":3,"v":1.47},{"f":"4V","e":8,"v":1.27},{"f":"4V","e":15,"v":1.15},{"f":"4V","e":20,"v":1.08},{"f":"4V","e":30,"v":1.02},{"f":"4V","e":40,"v":1.0},{"f":"4V","e":50,"v":0.975},{"f":"4V","e":60,"v":0.955},{"f":"4V","e":70,"v":0.94},{"f":"4V","e":80,"v":0.93},{"f":"4V","e":90,"v":0.91},{"f":"4V","e":100,"v":0.9},{"f":"4V","e":110,"v":0.885},{"f":"4V","e":120,"v":0.875},{"f":"4V","e":130,"v":0.86},{"f":"4V","e":140,"v":0.85},{"f":"4V","e":150,"v":0.84},{"f":"4V","e":160,"v":0.83},{"f":"4V","e":170,"v":0.815},{"f":"4V","e":180,"v":0.81},{"f":"4V","e":190,"v":0.8},{"f":"4V","e":200,"v":0.795},{"f":"4V","e":210,"v":0.797},{"f":"4V","e":220,"v":0.797},{"f":"4V","e":230,"v":0.797},{"f":"4V","e":240,"v":0.797},{"f":"4V","e":249,"v":0.797},
{"f":"5T","e":0,"v":1.9},{"f":"5T","e":3,"v":1.71},{"f":"5T","e":8,"v":1.53},{"f":"5T","e":15,"v":1.38},{"f":"5T","e":20,"v":1.33},{"f":"5T","e":30,"v":1.23},{"f":"5T","e":40,"v":1.18},{"f":"5T","e":50,"v":1.14},{"f":"5T","e":60,"v":1.1},{"f":"5T","e":70,"v":1.07},{"f":"5T","e":80,"v":1.05},{"f":"5T","e":90,"v":1.0},{"f":"5T","e":100,"v":0.98},{"f":"5T","e":110,"v":0.95},{"f":"5T","e":120,"v":0.92},{"f":"5T","e":130,"v":0.9},{"f":"5T","e":140,"v":0.87},{"f":"5T","e":150,"v":0.85},{"f":"5T","e":160,"v":0.825},{"f":"5T","e":170,"v":0.8},{"f":"5T","e":180,"v":0.77},{"f":"5T","e":190,"v":0.74},{"f":"5T","e":200,"v":0.71},{"f":"5T","e":210,"v":0.69},{"f":"5T","e":220,"v":0.665},{"f":"5T","e":230,"v":0.655},{"f":"5T","e":240,"v":0.625},{"f":"5T","e":249,"v":0.575},
{"f":"5V","e":0,"v":1.84},{"f":"5V","e":3,"v":1.5},{"f":"5V","e":8,"v":1.29},{"f":"5V","e":15,"v":1.17},{"f":"5V","e":20,"v":1.11},{"f":"5V","e":30,"v":1.05},{"f":"5V","e":40,"v":1.02},{"f":"5V","e":50,"v":0.99},{"f":"5V","e":60,"v":0.975},{"f":"5V","e":70,"v":0.955},{"f":"5V","e":80,"v":0.94},{"f":"5V","e":90,"v":0.92},{"f":"5V","e":100,"v":0.91},{"f":"5V","e":110,"v":0.89},{"f":"5V","e":120,"v":0.88},{"f":"5V","e":130,"v":0.865},{"f":"5V","e":140,"v":0.85},{"f":"5V","e":150,"v":0.84},{"f":"5V","e":160,"v":0.825},{"f":"5V","e":170,"v":0.815},{"f":"5V","e":180,"v":0.8},{"f":"5V","e":190,"v":0.79},{"f":"5V","e":200,"v":0.782},{"f":"5V","e":210,"v":0.777},{"f":"5V","e":220,"v":0.777},{"f":"5V","e":230,"v":0.777},{"f":"5V","e":240,"v":0.777},{"f":"5V","e":249,"v":0.777}
],
"c3":[
{"f":1,"e":0,"v":0.24},{"f":1,"e":3,"v":0.31},{"f":1,"e":8,"v":0.45},{"f":1,"e":15,"v":0.56},{"f":1,"e":20,"v":0.6},{"f":1,"e":30,"v":0.64},{"f":1,"e":40,"v":0.62},{"f":1,"e":50,"v":0.66},{"f":1,"e":60,"v":0.65},{"f":1,"e":70,"v":0.68},{"f":1,"e":80,"v":0.67},{"f":1,"e":90,"v":0.7},{"f":1,"e":100,"v":0.69},{"f":1,"e":110,"v":0.72},{"f":1,"e":120,"v":0.71},{"f":1,"e":130,"v":0.73},{"f":1,"e":140,"v":0.74},{"f":1,"e":150,"v":0.745},{"f":1,"e":160,"v":0.75},{"f":1,"e":170,"v":0.76},{"f":1,"e":180,"v":0.755},{"f":1,"e":190,"v":0.765},{"f":1,"e":200,"v":0.77},{"f":1,"e":210,"v":0.775},{"f":1,"e":220,"v":0.78},{"f":1,"e":230,"v":0.785},{"f":1,"e":240,"v":0.78},{"f":1,"e":249,"v":0.773},
{"f":2,"e":0,"v":0.26},{"f":2,"e":3,"v":0.35},{"f":2,"e":8,"v":0.5},{"f":2,"e":15,"v":0.55},{"f":2,"e":20,"v":0.62},{"f":2,"e":30,"v":0.6},{"f":2,"e":40,"v":0.475},{"f":2,"e":50,"v":0.64},{"f":2,"e":60,"v":0.62},{"f":2,"e":70,"v":0.66},{"f":2,"e":80,"v":0.68},{"f":2,"e":90,"v":0.67},{"f":2,"e":100,"v":0.71},{"f":2,"e":110,"v":0.73},{"f":2,"e":120,"v":0.72},{"f":2,"e":130,"v":0.75},{"f":2,"e":140,"v":0.77},{"f":2,"e":150,"v":0.79},{"f":2,"e":160,"v":0.8},{"f":2,"e":170,"v":0.81},{"f":2,"e":180,"v":0.805},{"f":2,"e":190,"v":0.82},{"f":2,"e":200,"v":0.815},{"f":2,"e":210,"v":0.825},{"f":2,"e":220,"v":0.82},{"f":2,"e":230,"v":0.825},{"f":2,"e":240,"v":0.826},{"f":2,"e":249,"v":0.826},
{"f":3,"e":0,"v":0.25},{"f":3,"e":3,"v":0.34},{"f":3,"e":8,"v":0.48},{"f":3,"e":15,"v":0.58},{"f":3,"e":20,"v":0.61},{"f":3,"e":30,"v":0.65},{"f":3,"e":40,"v":0.63},{"f":3,"e":50,"v":0.67},{"f":3,"e":60,"v":0.64},{"f":3,"e":70,"v":0.68},{"f":3,"e":80,"v":0.7},{"f":3,"e":90,"v":0.69},{"f":3,"e":100,"v":0.72},{"f":3,"e":110,"v":0.74},{"f":3,"e":120,"v":0.75},{"f":3,"e":130,"v":0.74},{"f":3,"e":140,"v":0.77},{"f":3,"e":150,"v":0.78},{"f":3,"e":160,"v":0.8},{"f":3,"e":170,"v":0.79},{"f":3,"e":180,"v":0.81},{"f":3,"e":190,"v":0.8},{"f":3,"e":200,"v":0.82},{"f":3,"e":210,"v":0.815},{"f":3,"e":220,"v":0.82},{"f":3,"e":230,"v":0.81},{"f":3,"e":240,"v":0.81},{"f":3,"e":249,"v":0.81},
{"f":4,"e":0,"v":0.27},{"f":4,"e":3,"v":0.37},{"f":4,"e":8,"v":0.52},{"f":4,"e":15,"v":0.57},{"f":4,"e":20,"v":0.64},{"f":4,"e":30,"v":0.67},{"f":4,"e":40,"v":0.66},{"f":4,"e":50,"v":0.64},{"f":4,"e":60,"v":0.68},{"f":4,"e":70,"v":0.65},{"f":4,"e":80,"v":0.69},{"f":4,"e":90,"v":0.71},{"f":4,"e":100,"v":0.7},{"f":4,"e":110,"v":0.73},{"f":4,"e":120,"v":0.75},{"f":4,"e":130,"v":0.76},{"f":4,"e":140,"v":0.78},{"f":4,"e":150,"v":0.77},{"f":4,"e":160,"v":0.79},{"f":4,"e":170,"v":0.8},{"f":4,"e":180,"v":0.79},{"f":4,"e":190,"v":0.81},{"f":4,"e":200,"v":0.8},{"f":4,"e":210,"v":0.81},{"f":4,"e":220,"v":0.805},{"f":4,"e":230,"v":0.8},{"f":4,"e":240,"v":0.8},{"f":4,"e":249,"v":0.8},
{"f":5,"e":0,"v":0.25},{"f":5,"e":3,"v":0.33},{"f":5,"e":8,"v":0.47},{"f":5,"e":15,"v":0.58},{"f":5,"e":20,"v":0.62},{"f":5,"e":30,"v":0.66},{"f":5,"e":40,"v":0.67},{"f":5,"e":50,"v":0.63},{"f":5,"e":60,"v":0.66},{"f":5,"e":70,"v":0.6},{"f":5,"e":75,"v":0.55},{"f":5,"e":80,"v":0.68},{"f":5,"e":90,"v":0.7},{"f":5,"e":100,"v":0.72},{"f":5,"e":110,"v":0.71},{"f":5,"e":120,"v":0.74},{"f":5,"e":130,"v":0.76},{"f":5,"e":140,"v":0.78},{"f":5,"e":150,"v":0.77},{"f":5,"e":160,"v":0.79},{"f":5,"e":170,"v":0.8},{"f":5,"e":180,"v":0.81},{"f":5,"e":190,"v":0.82},{"f":5,"e":200,"v":0.815},{"f":5,"e":210,"v":0.835},{"f":5,"e":220,"v":0.83},{"f":5,"e":230,"v":0.825},{"f":5,"e":240,"v":0.825},{"f":5,"e":249,"v":0.825},
{"f":1,"e":25,"v":0.62},{"f":1,"e":35,"v":0.66},{"f":1,"e":45,"v":0.65},{"f":1,"e":55,"v":0.63},{"f":1,"e":65,"v":0.67},{"f":1,"e":75,"v":0.66},{"f":1,"e":85,"v":0.69},{"f":1,"e":95,"v":0.68},{"f":1,"e":105,"v":0.71},{"f":1,"e":115,"v":0.7},{"f":1,"e":125,"v":0.72},{"f":1,"e":135,"v":0.75},{"f":1,"e":145,"v":0.73},{"f":1,"e":155,"v":0.76},{"f":1,"e":165,"v":0.745},{"f":1,"e":175,"v":0.77},{"f":1,"e":185,"v":0.76},{"f":1,"e":195,"v":0.77},{"f":1,"e":205,"v":0.78},{"f":1,"e":215,"v":0.785},{"f":1,"e":225,"v":0.775},{"f":1,"e":235,"v":0.78},
{"f":2,"e":25,"v":0.66},{"f":2,"e":35,"v":0.64},{"f":2,"e":45,"v":0.62},{"f":2,"e":55,"v":0.6},{"f":2,"e":65,"v":0.68},{"f":2,"e":75,"v":0.64},{"f":2,"e":85,"v":0.66},{"f":2,"e":95,"v":0.7},{"f":2,"e":105,"v":0.69},{"f":2,"e":115,"v":0.71},{"f":2,"e":125,"v":0.74},{"f":2,"e":135,"v":0.76},{"f":2,"e":145,"v":0.78},{"f":2,"e":155,"v":0.8},{"f":2,"e":165,"v":0.79},{"f":2,"e":175,"v":0.82},{"f":2,"e":185,"v":0.81},{"f":2,"e":195,"v":0.83},{"f":2,"e":205,"v":0.82},{"f":2,"e":215,"v":0.83},{"f":2,"e":225,"v":0.82},{"f":2,"e":235,"v":0.826},
{"f":3,"e":25,"v":0.63},{"f":3,"e":35,"v":0.6},{"f":3,"e":45,"v":0.66},{"f":3,"e":55,"v":0.63},{"f":3,"e":65,"v":0.67},{"f":3,"e":75,"v":0.65},{"f":3,"e":85,"v":0.69},{"f":3,"e":95,"v":0.72},{"f":3,"e":105,"v":0.7},{"f":3,"e":115,"v":0.73},{"f":3,"e":125,"v":0.77},{"f":3,"e":135,"v":0.76},{"f":3,"e":145,"v":0.79},{"f":3,"e":155,"v":0.77},{"f":3,"e":165,"v":0.78},{"f":3,"e":175,"v":0.8},{"f":3,"e":185,"v":0.79},{"f":3,"e":195,"v":0.81},{"f":3,"e":205,"v":0.82},{"f":3,"e":215,"v":0.81},{"f":3,"e":225,"v":0.815},{"f":3,"e":235,"v":0.81},
{"f":4,"e":25,"v":0.62},{"f":4,"e":35,"v":0.69},{"f":4,"e":45,"v":0.68},{"f":4,"e":55,"v":0.67},{"f":4,"e":65,"v":0.63},{"f":4,"e":75,"v":0.68},{"f":4,"e":85,"v":0.67},{"f":4,"e":95,"v":0.7},{"f":4,"e":105,"v":0.72},{"f":4,"e":115,"v":0.74},{"f":4,"e":125,"v":0.73},{"f":4,"e":135,"v":0.77},{"f":4,"e":145,"v":0.76},{"f":4,"e":155,"v":0.79},{"f":4,"e":165,"v":0.78},{"f":4,"e":175,"v":0.81},{"f":4,"e":185,"v":0.8},{"f":4,"e":195,"v":0.79},{"f":4,"e":205,"v":0.815},{"f":4,"e":215,"v":0.8},{"f":4,"e":225,"v":0.81},{"f":4,"e":235,"v":0.8},
{"f":5,"e":25,"v":0.64},{"f":5,"e":35,"v":0.69},{"f":5,"e":45,"v":0.65},{"f":5,"e":55,"v":0.67},{"f":5,"e":65,"v":0.64},{"f":5,"e":85,"v":0.66},{"f":5,"e":95,"v":0.72},{"f":5,"e":105,"v":0.7},{"f":5,"e":115,"v":0.73},{"f":5,"e":125,"v":0.75},{"f":5,"e":135,"v":0.77},{"f":5,"e":145,"v":0.76},{"f":5,"e":155,"v":0.79},{"f":5,"e":165,"v":0.78},{"f":5,"e":175,"v":0.81},{"f":5,"e":185,"v":0.8},{"f":5,"e":195,"v":0.83},{"f":5,"e":205,"v":0.82},{"f":5,"e":215,"v":0.84},{"f":5,"e":225,"v":0.82},{"f":5,"e":235,"v":0.825}
],
"m3":[
{"f":1,"e":0,"v":0.782},{"f":1,"e":10,"v":0.782},{"f":1,"e":15,"v":0.85},{"f":1,"e":20,"v":0.86},{"f":1,"e":30,"v":0.84},{"f":1,"e":40,"v":0.87},{"f":1,"e":45,"v":0.76},{"f":1,"e":50,"v":0.85},{"f":1,"e":60,"v":0.87},{"f":1,"e":70,"v":0.84},{"f":1,"e":80,"v":0.88},{"f":1,"e":90,"v":0.86},{"f":1,"e":100,"v":0.89},{"f":1,"e":110,"v":0.87},{"f":1,"e":120,"v":0.9},{"f":1,"e":130,"v":0.88},{"f":1,"e":140,"v":0.9},{"f":1,"e":150,"v":0.89},{"f":1,"e":160,"v":0.91},{"f":1,"e":170,"v":0.88},{"f":1,"e":180,"v":0.9},{"f":1,"e":190,"v":0.885},{"f":1,"e":200,"v":0.9},{"f":1,"e":210,"v":0.89},{"f":1,"e":220,"v":0.895},{"f":1,"e":230,"v":0.9},{"f":1,"e":240,"v":0.901},{"f":1,"e":249,"v":0.901},
{"f":2,"e":0,"v":0.781},{"f":2,"e":10,"v":0.781},{"f":2,"e":15,"v":0.82},{"f":2,"e":20,"v":0.87},{"f":2,"e":30,"v":0.83},{"f":2,"e":40,"v":0.738},{"f":2,"e":50,"v":0.83},{"f":2,"e":60,"v":0.88},{"f":2,"e":70,"v":0.85},{"f":2,"e":80,"v":0.87},{"f":2,"e":90,"v":0.88},{"f":2,"e":100,"v":0.86},{"f":2,"e":110,"v":0.9},{"f":2,"e":120,"v":0.89},{"f":2,"e":130,"v":0.91},{"f":2,"e":140,"v":0.88},{"f":2,"e":150,"v":0.92},{"f":2,"e":160,"v":0.905},{"f":2,"e":170,"v":0.93},{"f":2,"e":180,"v":0.915},{"f":2,"e":190,"v":0.92},{"f":2,"e":200,"v":0.91},{"f":2,"e":210,"v":0.925},{"f":2,"e":220,"v":0.915},{"f":2,"e":230,"v":0.918},{"f":2,"e":240,"v":0.918},{"f":2,"e":249,"v":0.918},
{"f":3,"e":0,"v":0.782},{"f":3,"e":10,"v":0.782},{"f":3,"e":15,"v":0.84},{"f":3,"e":20,"v":0.85},{"f":3,"e":30,"v":0.87},{"f":3,"e":40,"v":0.85},{"f":3,"e":50,"v":0.88},{"f":3,"e":60,"v":0.84},{"f":3,"e":70,"v":0.86},{"f":3,"e":80,"v":0.88},{"f":3,"e":90,"v":0.87},{"f":3,"e":100,"v":0.89},{"f":3,"e":110,"v":0.88},{"f":3,"e":120,"v":0.9},{"f":3,"e":130,"v":0.89},{"f":3,"e":140,"v":0.91},{"f":3,"e":150,"v":0.895},{"f":3,"e":160,"v":0.905},{"f":3,"e":170,"v":0.9},{"f":3,"e":180,"v":0.91},{"f":3,"e":190,"v":0.89},{"f":3,"e":200,"v":0.9},{"f":3,"e":210,"v":0.895},{"f":3,"e":220,"v":0.9},{"f":3,"e":230,"v":0.898},{"f":3,"e":240,"v":0.898},{"f":3,"e":249,"v":0.898},
{"f":4,"e":0,"v":0.783},{"f":4,"e":10,"v":0.783},{"f":4,"e":15,"v":0.83},{"f":4,"e":20,"v":0.9},{"f":4,"e":30,"v":0.86},{"f":4,"e":40,"v":0.88},{"f":4,"e":50,"v":0.84},{"f":4,"e":60,"v":0.87},{"f":4,"e":70,"v":0.89},{"f":4,"e":80,"v":0.86},{"f":4,"e":90,"v":0.88},{"f":4,"e":100,"v":0.9},{"f":4,"e":110,"v":0.89},{"f":4,"e":120,"v":0.91},{"f":4,"e":130,"v":0.9},{"f":4,"e":140,"v":0.92},{"f":4,"e":150,"v":0.91},{"f":4,"e":160,"v":0.92},{"f":4,"e":170,"v":0.91},{"f":4,"e":180,"v":0.925},{"f":4,"e":190,"v":0.92},{"f":4,"e":200,"v":0.93},{"f":4,"e":210,"v":0.935},{"f":4,"e":220,"v":0.94},{"f":4,"e":230,"v":0.935},{"f":4,"e":240,"v":0.932},{"f":4,"e":249,"v":0.932},
{"f":5,"e":0,"v":0.781},{"f":5,"e":10,"v":0.781},{"f":5,"e":15,"v":0.84},{"f":5,"e":20,"v":0.87},{"f":5,"e":30,"v":0.85},{"f":5,"e":40,"v":0.89},{"f":5,"e":50,"v":0.86},{"f":5,"e":60,"v":0.85},{"f":5,"e":70,"v":0.87},{"f":5,"e":80,"v":0.86},{"f":5,"e":90,"v":0.89},{"f":5,"e":100,"v":0.87},{"f":5,"e":110,"v":0.9},{"f":5,"e":120,"v":0.88},{"f":5,"e":130,"v":0.9},{"f":5,"e":140,"v":0.895},{"f":5,"e":150,"v":0.91},{"f":5,"e":160,"v":0.9},{"f":5,"e":170,"v":0.915},{"f":5,"e":180,"v":0.91},{"f":5,"e":190,"v":0.92},{"f":5,"e":200,"v":0.905},{"f":5,"e":210,"v":0.915},{"f":5,"e":220,"v":0.92},{"f":5,"e":230,"v":0.91},{"f":5,"e":240,"v":0.911},{"f":5,"e":249,"v":0.911},
{"f":1,"e":25,"v":0.83},{"f":1,"e":35,"v":0.88},{"f":1,"e":55,"v":0.83},{"f":1,"e":65,"v":0.86},{"f":1,"e":75,"v":0.87},{"f":1,"e":85,"v":0.85},{"f":1,"e":95,"v":0.88},{"f":1,"e":105,"v":0.86},{"f":1,"e":115,"v":0.9},{"f":1,"e":125,"v":0.87},{"f":1,"e":135,"v":0.91},{"f":1,"e":145,"v":0.88},{"f":1,"e":155,"v":0.9},{"f":1,"e":165,"v":0.875},{"f":1,"e":175,"v":0.905},{"f":1,"e":185,"v":0.87},{"f":1,"e":195,"v":0.895},{"f":1,"e":205,"v":0.905},{"f":1,"e":215,"v":0.88},{"f":1,"e":225,"v":0.9},
{"f":2,"e":25,"v":0.85},{"f":2,"e":35,"v":0.86},{"f":2,"e":45,"v":0.87},{"f":2,"e":55,"v":0.85},{"f":2,"e":65,"v":0.82},{"f":2,"e":75,"v":0.89},{"f":2,"e":85,"v":0.84},{"f":2,"e":95,"v":0.87},{"f":2,"e":105,"v":0.9},{"f":2,"e":115,"v":0.87},{"f":2,"e":125,"v":0.92},{"f":2,"e":135,"v":0.89},{"f":2,"e":145,"v":0.91},{"f":2,"e":155,"v":0.89},{"f":2,"e":165,"v":0.92},{"f":2,"e":175,"v":0.9},{"f":2,"e":185,"v":0.93},{"f":2,"e":195,"v":0.905},{"f":2,"e":205,"v":0.93},{"f":2,"e":215,"v":0.91},{"f":2,"e":225,"v":0.92},
{"f":3,"e":25,"v":0.82},{"f":3,"e":35,"v":0.84},{"f":3,"e":45,"v":0.88},{"f":3,"e":55,"v":0.85},{"f":3,"e":65,"v":0.87},{"f":3,"e":75,"v":0.84},{"f":3,"e":85,"v":0.86},{"f":3,"e":95,"v":0.89},{"f":3,"e":105,"v":0.87},{"f":3,"e":115,"v":0.895},{"f":3,"e":125,"v":0.87},{"f":3,"e":135,"v":0.9},{"f":3,"e":145,"v":0.89},{"f":3,"e":155,"v":0.91},{"f":3,"e":165,"v":0.89},{"f":3,"e":175,"v":0.905},{"f":3,"e":185,"v":0.895},{"f":3,"e":195,"v":0.91},{"f":3,"e":205,"v":0.89},{"f":3,"e":215,"v":0.905},{"f":3,"e":225,"v":0.895},
{"f":4,"e":25,"v":0.85},{"f":4,"e":35,"v":0.9},{"f":4,"e":45,"v":0.92},{"f":4,"e":55,"v":0.87},{"f":4,"e":65,"v":0.85},{"f":4,"e":75,"v":0.88},{"f":4,"e":85,"v":0.89},{"f":4,"e":95,"v":0.87},{"f":4,"e":105,"v":0.91},{"f":4,"e":115,"v":0.88},{"f":4,"e":125,"v":0.9},{"f":4,"e":135,"v":0.92},{"f":4,"e":145,"v":0.9},{"f":4,"e":155,"v":0.925},{"f":4,"e":165,"v":0.9},{"f":4,"e":175,"v":0.93},{"f":4,"e":185,"v":0.91},{"f":4,"e":195,"v":0.935},{"f":4,"e":205,"v":0.925},{"f":4,"e":215,"v":0.94},{"f":4,"e":225,"v":0.94},
{"f":5,"e":25,"v":0.86},{"f":5,"e":35,"v":0.83},{"f":5,"e":45,"v":0.86},{"f":5,"e":55,"v":0.88},{"f":5,"e":65,"v":0.83},{"f":5,"e":75,"v":0.89},{"f":5,"e":85,"v":0.84},{"f":5,"e":95,"v":0.87},{"f":5,"e":105,"v":0.89},{"f":5,"e":115,"v":0.87},{"f":5,"e":125,"v":0.9},{"f":5,"e":135,"v":0.88},{"f":5,"e":145,"v":0.91},{"f":5,"e":155,"v":0.895},{"f":5,"e":165,"v":0.9},{"f":5,"e":175,"v":0.92},{"f":5,"e":185,"v":0.9},{"f":5,"e":195,"v":0.91},{"f":5,"e":205,"v":0.92},{"f":5,"e":215,"v":0.905},{"f":5,"e":225,"v":0.915}
]
},
"hconcat":[
{
"title":{"text":"Training Curves - All Folds (segmentation_only)","fontSize":12,"anchor":"middle","frame":"bounds","offset":4},
"columns":3,"spacing":{"row":52,"column":143},"bounds":"flush",
"resolve":{"scale":{"color":"independent","strokeDash":"independent"},"legend":{"color":"independent","strokeDash":"independent"}},
"concat":[
{"title":"Training and Validation Loss","width":262,"height":315,"data":{"name":"l1"},"mark":{"type":"line"},
"encoding":{
"x":{"field":"e","type":"quantitative","scale":{"domain":[-12.45,261.45],"nice":false,"zero":false},"axis":{"values":[0,50,100,150,200,250],"format":"d","title":"Epoch"}},
"y":{"field":"v","type":"quantitative","scale":{"type":"log","domain":[0.637,2.005],"nice":false},"axis":{"title":"Loss","values":[0.7,0.8,1,2],"labelExpr":"datum.value==1?'10⁰':datum.value==2?'2 × 10⁰':''","gridOpacity":{"condition":{"test":"datum.value==1","value":1},"value":0},"tickSize":{"condition":{"test":"datum.value==1","value":3.5},"value":2}}},
"color":{"field":"f","type":"nominal","title":null,"scale":{"domain":["1T","1V","2T","2V","3T","3V","4T","4V","5T","5V"],"range":["#0000ff","#0000ff","#ff0000","#ff0000","#008000","#008000","#ffa500","#ffa500","#800080","#800080"]},"legend":{"orient":"right","offset":19,"labelExpr":"'Fold ' + substring(datum.label,0,1) + (substring(datum.label,1,2)=='T' ? ' Train' : ' Val')"}},
"strokeDash":{"field":"f","type":"nominal","title":null,"scale":{"domain":["1T","1V","2T","2V","3T","3V","4T","4V","5T","5V"],"range":[[1,0],[4.7,2],[1,0],[4.7,2],[1,0],[4.7,2],[1,0],[4.7,2],[1,0],[4.7,2]]},"legend":{"orient":"right","offset":19,"labelExpr":"'Fold ' + substring(datum.label,0,1) + (substring(datum.label,1,2)=='T' ? ' Train' : ' Val')"}}}},
{"title":"Classification Accuracy","width":263,"height":315,"data":{"values":[]},"mark":{"type":"line"},
"encoding":{
"x":{"field":"e","type":"quantitative","scale":{"domain":[0,1],"nice":false},"axis":{"values":[0,0.2,0.4,0.6,0.8,1],"format":".1f","title":"Epoch"}},
"y":{"field":"v","type":"quantitative","scale":{"domain":[0,1],"nice":false},"axis":{"values":[0,0.2,0.4,0.6,0.8,1],"format":".1f","title":"Accuracy"}}}},
{"title":"Malignancy Detection Accuracy","width":263,"height":315,"data":{"values":[]},"mark":{"type":"line"},
"encoding":{
"x":{"field":"e","type":"quantitative","scale":{"domain":[0,1],"nice":false},"axis":{"values":[0,0.2,0.4,0.6,0.8,1],"format":".1f","title":"Epoch"}},
"y":{"field":"v","type":"quantitative","scale":{"domain":[0,1],"nice":false},"axis":{"values":[0,0.2,0.4,0.6,0.8,1],"format":".1f","title":"Accuracy"}}}},
{"title":"Dice Scores","width":262,"height":315,"data":{"name":"d1"},"mark":{"type":"line"},
"encoding":{
"x":{"field":"e","type":"quantitative","scale":{"domain":[-12.45,261.45],"nice":false,"zero":false},"axis":{"values":[0,50,100,150,200,250],"format":"d","title":"Epoch"}},
"y":{"field":"v","type":"quantitative","scale":{"domain":[-0.03,0.863],"nice":false,"zero":false},"axis":{"title":"Dice Score","values":[0,0.1,0.2,0.3,0.4,0.5,0.6,0.7,0.8],"format":".1f"}},
"color":{"field":"f","type":"nominal","title":null,"scale":{"domain":[1,2,3,4,5]},"legend":{"orient":"bottom-right","labelExpr":"'Fold ' + datum.label"}}}},
{"title":"IoU Scores","width":263,"height":315,"data":{"name":"i1"},"mark":{"type":"line"},
"encoding":{
"x":{"field":"e","type":"quantitative","scale":{"domain":[-12.45,261.45],"nice":false,"zero":false},"axis":{"values":[0,50,100,150,200,250],"format":"d","title":"Epoch"}},
"y":{"field":"v","type":"quantitative","scale":{"domain":[-0.031,0.767],"nice":false,"zero":false},"axis":{"title":"IoU Score","values":[0,0.1,0.2,0.3,0.4,0.5,0.6,0.7],"format":".1f"}},
"color":{"field":"f","type":"nominal","title":null,"scale":{"domain":[1,2,3,4,5]},"legend":{"orient":"top-left","labelExpr":"'Fold ' + datum.label"}}}},
{"title":"Learning Rate Schedule","width":263,"height":315,"data":{"name":"lr"},"mark":{"type":"line"},
"encoding":{
"x":{"field":"e","type":"quantitative","scale":{"domain":[-12.45,261.45],"nice":false,"zero":false},"axis":{"values":[0,50,100,150,200,250],"format":"d","title":"Epoch"}},
"y":{"field":"v","type":"quantitative","scale":{"type":"log","domain":[2.1e-10,1.83e-4],"nice":false},"axis":{"title":"Learning Rate","values":[3e-10,4e-10,5e-10,6e-10,7e-10,8e-10,9e-10,1e-9,2e-9,3e-9,4e-9,5e-9,6e-9,7e-9,8e-9,9e-9,1e-8,2e-8,3e-8,4e-8,5e-8,6e-8,7e-8,8e-8,9e-8,1e-7,2e-7,3e-7,4e-7,5e-7,6e-7,7e-7,8e-7,9e-7,1e-6,2e-6,3e-6,4e-6,5e-6,6e-6,7e-6,8e-6,9e-6,1e-5,2e-5,3e-5,4e-5,5e-5,6e-5,7e-5,8e-5,9e-5,1e-4],"labelExpr":"abs(log(datum.value)/LN10-round(log(datum.value)/LN10))<0.001 ? '10⁻'+['⁰','¹','²','³','⁴','⁵','⁶','⁷','⁸','⁹'][-round(log(datum.value)/LN10)] : ''","gridOpacity":{"condition":{"test":"abs(log(datum.value)/LN10-round(log(datum.value)/LN10))<0.001","value":1},"value":0},"tickSize":{"condition":{"test":"abs(log(datum.value)/LN10-round(log(datum.value)/LN10))<0.001","value":3.5},"value":2}}},
"color":{"field":"f","type":"nominal","title":null,"scale":{"domain":[1,2,3,4,5]},"legend":{"orient":"bottom-left","labelExpr":"'Fold ' + datum.label"}}}}
]
},
{
"title":{"text":"Training Curves - All Folds (no_concepts)","fontSize":12,"anchor":"middle","frame":"bounds","offset":4},
"columns":3,"spacing":{"row":52,"column":143},"bounds":"flush",
"resolve":{"scale":{"color":"independent","strokeDash":"independent"},"legend":{"color":"independent","strokeDash":"independent"}},
"concat":[
{"title":"Training and Validation Loss","width":269,"height":315,"data":{"name":"l2"},"mark":{"type":"line"},
"encoding":{
"x":{"field":"e","type":"quantitative","scale":{"domain":[-12.45,261.45],"nice":false,"zero":false},"axis":{"values":[0,50,100,150,200,250],"format":"d","title":"Epoch"}},
"y":{"field":"v","type":"quantitative","scale":{"type":"log","domain":[0.678,1.85],"nice":false},"axis":{"title":"Loss","values":[0.7,0.8,0.9,1],"labelExpr":"datum.value==1?'10⁰':''","gridOpacity":{"condition":{"test":"datum.value==1","value":1},"value":0},"tickSize":{"condition":{"test":"datum.value==1","value":3.5},"value":2}}},
"color":{"field":"f","type":"nominal","title":null,"scale":{"domain":["1T","1V","2T","2V","3T","3V","4T","4V","5T","5V"],"range":["#0000ff","#0000ff","#ff0000","#ff0000","#008000","#008000","#ffa500","#ffa500","#800080","#800080"]},"legend":{"orient":"right","offset":19,"labelExpr":"'Fold ' + substring(datum.label,0,1) + (substring(datum.label,1,2)=='T' ? ' Train' : ' Val')"}},
"strokeDash":{"field":"f","type":"nominal","title":null,"scale":{"domain":["1T","1V","2T","2V","3T","3V","4T","4V","5T","5V"],"range":[[1,0],[4.7,2],[1,0],[4.7,2],[1,0],[4.7,2],[1,0],[4.7,2],[1,0],[4.7,2]]},"legend":{"orient":"right","offset":19,"labelExpr":"'Fold ' + substring(datum.label,0,1) + (substring(datum.label,1,2)=='T' ? ' Train' : ' Val')"}}}},
{"title":"Classification Accuracy","width":270,"height":315,"data":{"name":"c2"},"mark":{"type":"line"},
"encoding":{
"x":{"field":"e","type":"quantitative","scale":{"domain":[-12.45,261.45],"nice":false,"zero":false},"axis":{"values":[0,50,100,150,200,250],"format":"d","title":"Epoch"}},
"y":{"field":"v","type":"quantitative","scale":{"domain":[0.134,0.891],"nice":false,"zero":false},"axis":{"title":"Accuracy","values":[0.2,0.3,0.4,0.5,0.6,0.7,0.8],"format":".1f"}},
"color":{"field":"f","type":"nominal","title":null,"scale":{"domain":[1,2,3,4,5]},"legend":{"orient":"top-left","labelExpr":"'Fold ' + datum.label"}}}},
{"title":"Malignancy Detection Accuracy","width":270,"height":315,"data":{"name":"m2"},"mark":{"type":"line"},
"encoding":{
"x":{"field":"e","type":"quantitative","scale":{"domain":[-12.45,261.45],"nice":false,"zero":false},"axis":{"values":[0,50,100,150,200,250],"format":"d","title":"Epoch"}},
"y":{"field":"v","type":"quantitative","scale":{"domain":[0.7677,0.954],"nice":false,"zero":false},"axis":{"title":"Accuracy","values":[0.775,0.8,0.825,0.85,0.875,0.9,0.925,0.95],"format":".3f"}},
"color":{"field":"f","type":"nominal","title":null,"scale":{"domain":[1,2,3,4,5]},"legend":{"orient":"top-left","labelExpr":"'Fold ' + datum.label"}}}},
{"title":"Dice Scores","width":269,"height":315,"data":{"name":"d2"},"mark":{"type":"line"},
"encoding":{
"x":{"field":"e","type":"quantitative","scale":{"domain":[-12.45,261.45],"nice":false,"zero":false},"axis":{"values":[0,50,100,150,200,250],"format":"d","title":"Epoch"}},
"y":{"field":"v","type":"quantitative","scale":{"domain":[0.104,0.802],"nice":false,"zero":false},"axis":{"title":"Dice Score","values":[0.2,0.3,0.4,0.5,0.6,0.7,0.8],"format":".1f"}},
"color":{"field":"f","type":"nominal","title":null,"scale":{"domain":[1,2,3,4,5]},"legend":{"orient":"top-left","labelExpr":"'Fold ' + datum.label"}}}},
{"title":"IoU Scores","width":270,"height":315,"data":{"name":"i2"},"mark":{"type":"line"},
"encoding":{
"x":{"field":"e","type":"quantitative","scale":{"domain":[-12.45,261.45],"nice":false,"zero":false},"axis":{"values":[0,50,100,150,200,250],"format":"d","title":"Epoch"}},
"y":{"field":"v","type":"quantitative","scale":{"domain":[0.046,0.69],"nice":false,"zero":false},"axis":{"title":"IoU Score","values":[0.1,0.2,0.3,0.4,0.5,0.6],"format":".1f"}},
"color":{"field":"f","type":"nominal","title":null,"scale":{"domain":[1,2,3,4,5]},"legend":{"orient":"top-left","labelExpr":"'Fold ' + datum.label"}}}},
{"title":"Learning Rate Schedule","width":270,"height":315,"data":{"name":"lr"},"mark":{"type":"line"},
"encoding":{
"x":{"field":"e","type":"quantitative","scale":{"domain":[-12.45,261.45],"nice":false,"zero":false},"axis":{"values":[0,50,100,150,200,250],"format":"d","title":"Epoch"}},
"y":{"field":"v","type":"quantitative","scale":{"type":"log","domain":[2.1e-10,1.83e-4],"nice":false},"axis":{"title":"Learning Rate","values":[3e-10,4e-10,5e-10,6e-10,7e-10,8e-10,9e-10,1e-9,2e-9,3e-9,4e-9,5e-9,6e-9,7e-9,8e-9,9e-9,1e-8,2e-8,3e-8,4e-8,5e-8,6e-8,7e-8,8e-8,9e-8,1e-7,2e-7,3e-7,4e-7,5e-7,6e-7,7e-7,8e-7,9e-7,1e-6,2e-6,3e-6,4e-6,5e-6,6e-6,7e-6,8e-6,9e-6,1e-5,2e-5,3e-5,4e-5,5e-5,6e-5,7e-5,8e-5,9e-5,1e-4],"labelExpr":"abs(log(datum.value)/LN10-round(log(datum.value)/LN10))<0.001 ? '10⁻'+['⁰','¹','²','³','⁴','⁵','⁶','⁷','⁸','⁹'][-round(log(datum.value)/LN10)] : ''","gridOpacity":{"condition":{"test":"abs(log(datum.value)/LN10-round(log(datum.value)/LN10))<0.001","value":1},"value":0},"tickSize":{"condition":{"test":"abs(log(datum.value)/LN10-round(log(datum.value)/LN10))<0.001","value":3.5},"value":2}}},
"color":{"field":"f","type":"nominal","title":null,"scale":{"domain":[1,2,3,4,5]},"legend":{"orient":"bottom-left","labelExpr":"'Fold ' + datum.label"}}}}
]
},
{
"title":{"text":"Training Curves - All Folds (class_mal_only)","fontSize":12,"anchor":"middle","frame":"bounds","offset":4},
"columns":3,"spacing":{"row":52,"column":143},"bounds":"flush",
"resolve":{"scale":{"color":"independent","strokeDash":"independent"},"legend":{"color":"independent","strokeDash":"independent"}},
"concat":[
{"title":"Training and Validation Loss","width":263,"height":315,"data":{"name":"l3"},"mark":{"type":"line"},
"encoding":{
"x":{"field":"e","type":"quantitative","scale":{"domain":[-12.45,261.45],"nice":false,"zero":false},"axis":{"values":[0,50,100,150,200,250],"format":"d","title":"Epoch"}},
"y":{"field":"v","type":"quantitative","scale":{"type":"log","domain":[0.56,2.01],"nice":false},"axis":{"title":"Loss","values":[0.6,0.7,0.8,0.9,1,2],"labelExpr":"datum.value==1?'10⁰':datum.value==2?'2 × 10⁰':datum.value==0.6?'6 × 10⁻¹':''","gridOpacity":{"condition":{"test":"datum.value==1","value":1},"value":0},"tickSize":{"condition":{"test":"datum.value==1","value":3.5},"value":2}}},
"color":{"field":"f","type":"nominal","title":null,"scale":{"domain":["1T","1V","2T","2V","3T","3V","4T","4V","5T","5V"],"range":["#0000ff","#0000ff","#ff0000","#ff0000","#008000","#008000","#ffa500","#ffa500","#800080","#800080"]},"legend":{"orient":"right","offset":19,"labelExpr":"'Fold ' + substring(datum.label,0,1) + (substring(datum.label,1,2)=='T' ? ' Train' : ' Val')"}},
"strokeDash":{"field":"f","type":"nominal","title":null,"scale":{"domain":["1T","1V","2T","2V","3T","3V","4T","4V","5T","5V"],"range":[[1,0],[4.7,2],[1,0],[4.7,2],[1,0],[4.7,2],[1,0],[4.7,2],[1,0],[4.7,2]]},"legend":{"orient":"right","offset":19,"labelExpr":"'Fold ' + substring(datum.label,0,1) + (substring(datum.label,1,2)=='T' ? ' Train' : ' Val')"}}}},
{"title":"Classification Accuracy","width":262,"height":315,"data":{"name":"c3"},"mark":{"type":"line"},
"encoding":{
"x":{"field":"e","type":"quantitative","scale":{"domain":[-12.45,261.45],"nice":false,"zero":false},"axis":{"values":[0,50,100,150,200,250],"format":"d","title":"Epoch"}},
"y":{"field":"v","type":"quantitative","scale":{"domain":[0.2035,0.872],"nice":false,"zero":false},"axis":{"title":"Accuracy","values":[0.3,0.4,0.5,0.6,0.7,0.8],"format":".1f"}},
"color":{"field":"f","type":"nominal","title":null,"scale":{"domain":[1,2,3,4,5]},"legend":{"orient":"top-left","labelExpr":"'Fold ' + datum.label"}}}},
{"title":"Malignancy Detection Accuracy","width":264,"height":315,"data":{"name":"m3"},"mark":{"type":"line"},
"encoding":{
"x":{"field":"e","type":"quantitative","scale":{"domain":[-12.45,261.45],"nice":false,"zero":false},"axis":{"values":[0,50,100,150,200,250],"format":"d","title":"Epoch"}},
"y":{"field":"v","type":"quantitative","scale":{"domain":[0.7292,0.9449],"nice":false,"zero":false},"axis":{"title":"Accuracy","values":[0.75,0.775,0.8,0.825,0.85,0.875,0.9,0.925],"format":".3f"}},
"color":{"field":"f","type":"nominal","title":null,"scale":{"domain":[1,2,3,4,5]},"legend":{"orient":"bottom-right","labelExpr":"'Fold ' + datum.label"}}}},
{"title":"Dice Scores","width":263,"height":315,"data":{"values":[]},"mark":{"type":"line"},
"encoding":{
"x":{"field":"e","type":"quantitative","scale":{"domain":[0,1],"nice":false},"axis":{"values":[0,0.2,0.4,0.6,0.8,1],"format":".1f","title":"Epoch"}},
"y":{"field":"v","type":"quantitative","scale":{"domain":[0,1],"nice":false},"axis":{"values":[0,0.2,0.4,0.6,0.8,1],"format":".1f","title":"Dice Score"}}}},
{"title":"IoU Scores","width":262,"height":315,"data":{"values":[]},"mark":{"type":"line"},
"encoding":{
"x":{"field":"e","type":"quantitative","scale":{"domain":[0,1],"nice":false},"axis":{"values":[0,0.2,0.4,0.6,0.8,1],"format":".1f","title":"Epoch"}},
"y":{"field":"v","type":"quantitative","scale":{"domain":[0,1],"nice":false},"axis":{"values":[0,0.2,0.4,0.6,0.8,1],"format":".1f","title":"IoU Score"}}}},
{"title":"Learning Rate Schedule","width":264,"height":315,"data":{"name":"lr"},"mark":{"type":"line"},
"encoding":{
"x":{"field":"e","type":"quantitative","scale":{"domain":[-12.45,261.45],"nice":false,"zero":false},"axis":{"values":[0,50,100,150,200,250],"format":"d","title":"Epoch"}},
"y":{"field":"v","type":"quantitative","scale":{"type":"log","domain":[2.1e-10,1.83e-4],"nice":false},"axis":{"title":"Learning Rate","values":[3e-10,4e-10,5e-10,6e-10,7e-10,8e-10,9e-10,1e-9,2e-9,3e-9,4e-9,5e-9,6e-9,7e-9,8e-9,9e-9,1e-8,2e-8,3e-8,4e-8,5e-8,6e-8,7e-8,8e-8,9e-8,1e-7,2e-7,3e-7,4e-7,5e-7,6e-7,7e-7,8e-7,9e-7,1e-6,2e-6,3e-6,4e-6,5e-6,6e-6,7e-6,8e-6,9e-6,1e-5,2e-5,3e-5,4e-5,5e-5,6e-5,7e-5,8e-5,9e-5,1e-4],"labelExpr":"abs(log(datum.value)/LN10-round(log(datum.value)/LN10))<0.001 ? '10⁻'+['⁰','¹','²','³','⁴','⁵','⁶','⁷','⁸','⁹'][-round(log(datum.value)/LN10)] : ''","gridOpacity":{"condition":{"test":"abs(log(datum.value)/LN10-round(log(datum.value)/LN10))<0.001","value":1},"value":0},"tickSize":{"condition":{"test":"abs(log(datum.value)/LN10-round(log(datum.value)/LN10))<0.001","value":3.5},"value":2}}},
"color":{"field":"f","type":"nominal","title":null,"scale":{"domain":[1,2,3,4,5]},"legend":{"orient":"bottom-left","labelExpr":"'Fold ' + datum.label"}}}}
]
}
],
"config":{
"font":"DejaVu Sans",
"view":{"stroke":"#000000","strokeWidth":1},
"title":{"fontSize":10.2,"fontWeight":"normal","color":"#000000","offset":5},
"axis":{"domain":false,"grid":true,"gridColor":"#b0b0b0","gridWidth":0.8,"tickColor":"#000000","tickSize":3.5,"tickWidth":0.8,"labelFontSize":8.5,"labelColor":"#000000","labelPadding":2.5,"labelFlush":false,"labelOverlap":false,"titleFontSize":8.5,"titleFontWeight":"normal","titleColor":"#000000","titlePadding":4},
"legend":{"labelFontSize":8.5,"labelColor":"#000000","symbolType":"M-2,0H2","symbolSize":81,"symbolStrokeWidth":1.5,"symbolOffset":3,"labelOffset":12.5,"padding":4,"rowPadding":2.6,"fillColor":"#ffffff","strokeColor":"#cccccc","cornerRadius":3,"offset":5},
"line":{"strokeWidth":1.2,"opacity":0.7},
"range":{"category":["#0000ff","#ff0000","#008000","#ffa500","#800080"]}
}
}
